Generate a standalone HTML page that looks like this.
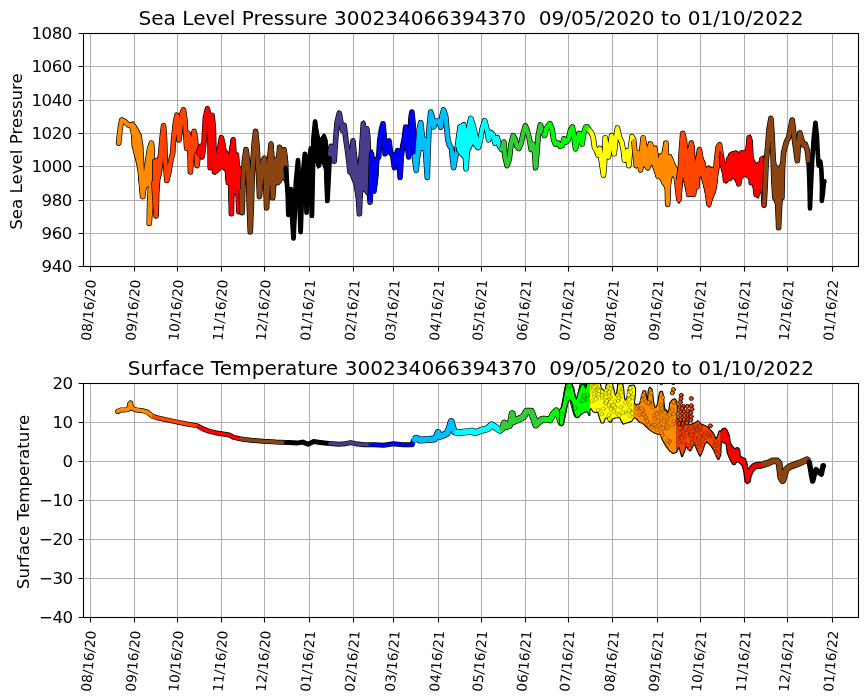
<!DOCTYPE html><html><head><meta charset="utf-8"><title>Sea Level Pressure and Surface Temperature</title>
<style>html,body{margin:0;padding:0;background:#fff}svg{display:block}text{font-family:"DejaVu Sans","Liberation Sans",sans-serif;fill:#000}</style></head><body>
<svg width="867" height="700" viewBox="0 0 867 700">
<rect width="867" height="700" fill="#fff"/>
<defs><clipPath id="c1"><rect x="83.5" y="33.5" width="775.0" height="233.0"/></clipPath><clipPath id="c2"><rect x="83.5" y="383.5" width="775.0" height="234.0"/></clipPath></defs>
<path d="M90.50 33.5V266.5M134.50 33.5V266.5M177.50 33.5V266.5M221.50 33.5V266.5M264.50 33.5V266.5M309.50 33.5V266.5M353.50 33.5V266.5M393.50 33.5V266.5M438.50 33.5V266.5M481.50 33.5V266.5M525.50 33.5V266.5M568.50 33.5V266.5M612.50 33.5V266.5M657.50 33.5V266.5M700.50 33.5V266.5M744.50 33.5V266.5M787.50 33.5V266.5M832.50 33.5V266.5M83.5 266.50H858.5M83.5 233.50H858.5M83.5 200.50H858.5M83.5 166.50H858.5M83.5 133.50H858.5M83.5 100.50H858.5M83.5 66.50H858.5M83.5 33.50H858.5" stroke="#b0b0b0" stroke-width="1.1" fill="none"/>
<g clip-path="url(#c1)" fill="none" stroke-linejoin="round" stroke-linecap="round">
<circle cx="118.6" cy="143.1" r="2.80" fill="#000"/>
<circle cx="823.9" cy="181.6" r="2.80" fill="#000"/>
<polygon points="131.5,123.0 132.3,146.0 136.0,160.0 138.0,169.0 140.4,192.0 142.0,198.0 144.5,198.0 145.0,192.0 143.8,169.0 142.7,146.0 141.0,135.0 136.0,126.0 133.0,122.0" fill="#000" stroke="#000" stroke-width="1.6"/>
<polygon points="144.6,190.0 146.0,165.0 148.0,158.9 153.9,158.9 153.9,184.9 148.0,186.0" fill="#000" stroke="#000" stroke-width="1.6"/>
<polyline points="118.6,143.1 119.0,138.8 120.7,124.9 121.8,120.1 125.0,121.6 128.2,124.9 131.4,124.9 133.1,131.3 134.6,138.8 136.8,139.9 138.3,146.3 140.0,157.0 140.6,169.9 141.5,182.7 142.6,196.6 143.9,187.0 145.4,176.3 147.5,162.0 149.6,148.4 151.4,143.1 152.4,150.6 151.8,161.3 150.7,182.7 149.6,204.1 149.2,223.4 151.8,193.4 153.8,183.2" stroke="#000" stroke-width="5.6" stroke-linecap="butt"/>
<polygon points="131.5,123.0 132.3,146.0 136.0,160.0 138.0,169.0 140.4,192.0 142.0,198.0 144.5,198.0 145.0,192.0 143.8,169.0 142.7,146.0 141.0,135.0 136.0,126.0 133.0,122.0" fill="#ff8c00" stroke="none"/>
<polygon points="144.6,190.0 146.0,165.0 148.0,158.9 153.9,158.9 153.9,184.9 148.0,186.0" fill="#ff8c00" stroke="none"/>
<polyline points="118.6,143.1 119.0,138.8 120.7,124.9 121.8,120.1 125.0,121.6 128.2,124.9 131.4,124.9 133.1,131.3 134.6,138.8 136.8,139.9 138.3,146.3 140.0,157.0 140.6,169.9 141.5,182.7 142.6,196.6 143.9,187.0 145.4,176.3 147.5,162.0 149.6,148.4 151.4,143.1 152.4,150.6 151.8,161.3 150.7,182.7 149.6,204.1 149.2,223.4 151.8,193.4 153.8,183.2" stroke="#ff8c00" stroke-width="4.2"/>
<polygon points="153.0,160.0 158.0,158.0 160.0,150.0 162.3,140.0 163.0,160.0 161.0,175.0 158.0,183.0 153.0,184.0" fill="#000" stroke="#000" stroke-width="1.6"/>
<polyline points="153.8,183.2 153.9,182.7 156.1,215.9 156.7,193.4 158.2,172.0 160.4,157.0 162.1,137.7 163.6,125.9 164.6,139.9 165.3,161.3 166.8,180.5 168.9,172.0 171.1,159.1 172.6,153.8 173.6,139.9 175.4,122.7 176.9,115.2 178.1,129.1 179.0,139.9 180.3,129.1 181.8,114.1 183.5,109.9 185.0,120.6 185.6,133.4 186.7,148.4 188.2,133.4 189.7,139.9 190.4,172.0 192.0,150.6 194.1,131.3 195.6,139.9 197.1,165.6 198.2,154.4" stroke="#000" stroke-width="5.6" stroke-linecap="butt"/>
<polygon points="153.0,160.0 158.0,158.0 160.0,150.0 162.3,140.0 163.0,160.0 161.0,175.0 158.0,183.0 153.0,184.0" fill="#ff4500" stroke="none"/>
<polyline points="153.8,183.2 153.9,182.7 156.1,215.9 156.7,193.4 158.2,172.0 160.4,157.0 162.1,137.7 163.6,125.9 164.6,139.9 165.3,161.3 166.8,180.5 168.9,172.0 171.1,159.1 172.6,153.8 173.6,139.9 175.4,122.7 176.9,115.2 178.1,129.1 179.0,139.9 180.3,129.1 181.8,114.1 183.5,109.9 185.0,120.6 185.6,133.4 186.7,148.4 188.2,133.4 189.7,139.9 190.4,172.0 192.0,150.6 194.1,131.3 195.6,139.9 197.1,165.6 198.2,154.4" stroke="#ff4500" stroke-width="4.2"/>
<polygon points="215.0,158.0 218.0,152.0 220.0,144.0 222.0,136.0 224.0,144.0 226.0,152.0 226.0,172.0 222.0,168.0 218.0,172.0 215.0,174.0" fill="#000" stroke="#000" stroke-width="1.6"/>
<polygon points="226.0,150.0 229.0,154.0 231.6,139.0 234.0,138.0 235.0,152.0 238.0,154.0 239.0,166.0 242.0,168.0 244.0,184.0 244.0,190.0 243.0,204.0 240.4,214.0 238.0,208.0 237.0,194.0 234.0,194.0 233.0,200.0 232.0,214.0 230.0,212.0 229.0,184.0 226.0,180.0" fill="#000" stroke="#000" stroke-width="1.6"/>
<polyline points="198.2,154.4 198.4,152.7 200.6,146.3 202.1,157.0 203.1,150.6 204.2,139.9 205.3,118.4 207.4,108.8 209.1,116.3 210.0,139.9 210.2,167.7 211.3,139.9 212.1,115.2 213.4,129.1 213.9,150.6 214.5,172.0 216.0,159.1 218.1,154.9 219.9,146.3 221.4,137.7 222.9,144.1 224.1,152.7 226.7,154.9 227.8,167.7 228.4,182.7 229.9,161.3 231.0,193.4 231.4,213.8 231.9,182.7 232.3,150.6 233.1,139.9 234.2,157.0 236.4,154.9 237.4,172.0 238.1,193.4 238.9,211.6 239.6,182.7 240.6,169.9 241.2,190.4" stroke="#000" stroke-width="5.6" stroke-linecap="butt"/>
<polygon points="215.0,158.0 218.0,152.0 220.0,144.0 222.0,136.0 224.0,144.0 226.0,152.0 226.0,172.0 222.0,168.0 218.0,172.0 215.0,174.0" fill="#ff0000" stroke="none"/>
<polygon points="226.0,150.0 229.0,154.0 231.6,139.0 234.0,138.0 235.0,152.0 238.0,154.0 239.0,166.0 242.0,168.0 244.0,184.0 244.0,190.0 243.0,204.0 240.4,214.0 238.0,208.0 237.0,194.0 234.0,194.0 233.0,200.0 232.0,214.0 230.0,212.0 229.0,184.0 226.0,180.0" fill="#ff0000" stroke="none"/>
<polyline points="198.2,154.4 198.4,152.7 200.6,146.3 202.1,157.0 203.1,150.6 204.2,139.9 205.3,118.4 207.4,108.8 209.1,116.3 210.0,139.9 210.2,167.7 211.3,139.9 212.1,115.2 213.4,129.1 213.9,150.6 214.5,172.0 216.0,159.1 218.1,154.9 219.9,146.3 221.4,137.7 222.9,144.1 224.1,152.7 226.7,154.9 227.8,167.7 228.4,182.7 229.9,161.3 231.0,193.4 231.4,213.8 231.9,182.7 232.3,150.6 233.1,139.9 234.2,157.0 236.4,154.9 237.4,172.0 238.1,193.4 238.9,211.6 239.6,182.7 240.6,169.9 241.2,190.4" stroke="#ff0000" stroke-width="4.2"/>
<polygon points="266.0,170.0 269.0,150.0 271.0,142.0 273.0,146.0 274.0,162.0 277.0,156.0 279.0,146.0 281.0,147.0 282.0,156.0 284.0,149.0 286.0,150.0 287.6,162.0 288.0,180.0 288.0,184.0 285.0,182.0 283.0,178.0 281.0,182.0 279.0,184.0 276.0,184.0 272.0,184.0 269.0,186.0 266.0,184.0" fill="#000" stroke="#000" stroke-width="1.6"/>
<polyline points="241.2,190.4 241.3,193.4 242.1,212.7 243.0,182.7 244.3,161.3 246.0,149.5 247.7,161.3 248.6,182.7 249.2,204.1 250.3,232.0 251.4,204.1 252.4,172.0 254.1,144.1 255.6,131.3 257.1,146.3 258.4,172.0 259.5,196.6 261.0,178.4 262.7,161.3 264.4,158.1 265.7,182.7 266.6,207.9 268.0,182.7 269.5,161.3 271.0,144.1 272.1,172.0 272.7,197.7 273.8,182.7 275.3,161.3 276.6,159.1 277.4,182.7 278.7,161.3 279.6,147.4 280.9,161.3 281.7,177.4 283.0,161.3 284.1,149.5 285.1,161.3 285.6,167.3" stroke="#000" stroke-width="5.6" stroke-linecap="butt"/>
<polygon points="266.0,170.0 269.0,150.0 271.0,142.0 273.0,146.0 274.0,162.0 277.0,156.0 279.0,146.0 281.0,147.0 282.0,156.0 284.0,149.0 286.0,150.0 287.6,162.0 288.0,180.0 288.0,184.0 285.0,182.0 283.0,178.0 281.0,182.0 279.0,184.0 276.0,184.0 272.0,184.0 269.0,186.0 266.0,184.0" fill="#8b4513" stroke="none"/>
<polyline points="241.2,190.4 241.3,193.4 242.1,212.7 243.0,182.7 244.3,161.3 246.0,149.5 247.7,161.3 248.6,182.7 249.2,204.1 250.3,232.0 251.4,204.1 252.4,172.0 254.1,144.1 255.6,131.3 257.1,146.3 258.4,172.0 259.5,196.6 261.0,178.4 262.7,161.3 264.4,158.1 265.7,182.7 266.6,207.9 268.0,182.7 269.5,161.3 271.0,144.1 272.1,172.0 272.7,197.7 273.8,182.7 275.3,161.3 276.6,159.1 277.4,182.7 278.7,161.3 279.6,147.4 280.9,161.3 281.7,177.4 283.0,161.3 284.1,149.5 285.1,161.3 285.6,167.3" stroke="#8b4513" stroke-width="4.2"/>
<polygon points="312.0,146.0 313.0,130.0 315.6,120.0 318.0,132.0 320.0,140.0 324.0,134.0 327.0,140.0 328.0,160.0 328.0,200.0 326.0,202.0 325.0,170.0 322.0,162.0 318.0,168.0 315.0,160.0 313.0,165.0" fill="#000" stroke="#000" stroke-width="1.6"/>
<polyline points="285.6,167.3 286.6,178.4 287.7,193.4 288.4,214.9 289.4,199.9 290.9,189.1 292.0,214.9 293.5,238.4 294.6,214.9 295.9,182.7 298.0,160.2 298.9,182.7 299.7,208.4 300.6,232.0 301.6,204.1 303.1,172.0 304.9,153.8 305.9,182.7 306.6,212.7 308.1,182.7 309.6,157.0 310.9,148.4 311.7,193.4 311.9,215.9 312.6,182.7 313.4,139.9 315.1,121.6 316.6,135.6 317.7,150.6 318.8,165.6 320.3,152.7 322.0,139.9 324.1,136.6 325.6,150.6 326.7,182.7 327.4,200.9 328.4,182.7 329.7,157.0 330.0,154.1" stroke="#000" stroke-width="4.8" stroke-linecap="butt"/>
<polygon points="312.0,146.0 313.0,130.0 315.6,120.0 318.0,132.0 320.0,140.0 324.0,134.0 327.0,140.0 328.0,160.0 328.0,200.0 326.0,202.0 325.0,170.0 322.0,162.0 318.0,168.0 315.0,160.0 313.0,165.0" fill="#000000" stroke="none"/>
<polyline points="285.6,167.3 286.6,178.4 287.7,193.4 288.4,214.9 289.4,199.9 290.9,189.1 292.0,214.9 293.5,238.4 294.6,214.9 295.9,182.7 298.0,160.2 298.9,182.7 299.7,208.4 300.6,232.0 301.6,204.1 303.1,172.0 304.9,153.8 305.9,182.7 306.6,212.7 308.1,182.7 309.6,157.0 310.9,148.4 311.7,193.4 311.9,215.9 312.6,182.7 313.4,139.9 315.1,121.6 316.6,135.6 317.7,150.6 318.8,165.6 320.3,152.7 322.0,139.9 324.1,136.6 325.6,150.6 326.7,182.7 327.4,200.9 328.4,182.7 329.7,157.0 330.0,154.1" stroke="#000000" stroke-width="3.4"/>
<polygon points="350.0,150.0 353.0,139.0 355.0,150.0 358.0,166.0 360.0,150.0 362.0,124.0 363.6,121.0 366.0,128.0 368.0,127.0 369.6,134.0 370.4,152.0 371.0,180.0 371.6,200.0 370.0,204.0 368.0,196.0 365.0,192.0 363.0,190.0 361.0,200.0 359.0,215.0 357.0,200.0 354.0,184.0 350.0,174.0" fill="#000" stroke="#000" stroke-width="1.6"/>
<polyline points="330.0,154.1 331.0,146.3 332.7,152.7 334.2,161.3 335.3,144.1 337.0,122.7 339.3,113.1 341.1,123.8 342.5,130.5 344.2,125.4 345.9,139.9 347.5,150.6 349.1,163.4 350.0,172.0 351.3,157.0 353.0,140.9 354.3,154.9 355.6,172.0 356.9,182.7 358.4,197.7 359.4,213.8 360.5,182.7 361.6,150.6 363.3,123.8 364.1,150.6 364.8,189.1 365.9,161.3 366.9,129.1 368.0,150.6 369.1,182.7 370.1,202.0 370.2,200.2" stroke="#000" stroke-width="5.6" stroke-linecap="butt"/>
<polygon points="350.0,150.0 353.0,139.0 355.0,150.0 358.0,166.0 360.0,150.0 362.0,124.0 363.6,121.0 366.0,128.0 368.0,127.0 369.6,134.0 370.4,152.0 371.0,180.0 371.6,200.0 370.0,204.0 368.0,196.0 365.0,192.0 363.0,190.0 361.0,200.0 359.0,215.0 357.0,200.0 354.0,184.0 350.0,174.0" fill="#483d8b" stroke="none"/>
<polyline points="330.0,154.1 331.0,146.3 332.7,152.7 334.2,161.3 335.3,144.1 337.0,122.7 339.3,113.1 341.1,123.8 342.5,130.5 344.2,125.4 345.9,139.9 347.5,150.6 349.1,163.4 350.0,172.0 351.3,157.0 353.0,140.9 354.3,154.9 355.6,172.0 356.9,182.7 358.4,197.7 359.4,213.8 360.5,182.7 361.6,150.6 363.3,123.8 364.1,150.6 364.8,189.1 365.9,161.3 366.9,129.1 368.0,150.6 369.1,182.7 370.1,202.0 370.2,200.2" stroke="#483d8b" stroke-width="4.2"/>
<polygon points="370.0,152.0 372.0,150.0 374.0,160.0 376.0,158.0 378.0,156.0 378.0,175.0 376.0,190.0 374.0,192.0 371.0,192.0 370.0,180.0" fill="#000" stroke="#000" stroke-width="1.6"/>
<polyline points="370.2,200.2 370.8,182.7 371.6,153.8 372.7,172.0 374.0,191.3 375.5,172.0 377.0,159.1 378.7,157.0 379.8,139.9 381.5,129.1 383.0,123.8 384.1,135.6 385.1,153.8 386.9,142.0 389.0,140.9 390.5,152.7 392.6,154.9 394.4,167.7 395.9,157.0 397.6,150.6 399.1,161.3 400.1,177.4 401.2,157.0 402.7,146.3 404.4,137.7 405.7,127.0 407.0,139.9 408.7,157.0 409.8,139.9 410.9,118.4 411.9,112.0 413.0,122.7 414.1,144.1 414.6,156.2" stroke="#000" stroke-width="5.6" stroke-linecap="butt"/>
<polygon points="370.0,152.0 372.0,150.0 374.0,160.0 376.0,158.0 378.0,156.0 378.0,175.0 376.0,190.0 374.0,192.0 371.0,192.0 370.0,180.0" fill="#0000ff" stroke="none"/>
<polyline points="370.2,200.2 370.8,182.7 371.6,153.8 372.7,172.0 374.0,191.3 375.5,172.0 377.0,159.1 378.7,157.0 379.8,139.9 381.5,129.1 383.0,123.8 384.1,135.6 385.1,153.8 386.9,142.0 389.0,140.9 390.5,152.7 392.6,154.9 394.4,167.7 395.9,157.0 397.6,150.6 399.1,161.3 400.1,177.4 401.2,157.0 402.7,146.3 404.4,137.7 405.7,127.0 407.0,139.9 408.7,157.0 409.8,139.9 410.9,118.4 411.9,112.0 413.0,122.7 414.1,144.1 414.6,156.2" stroke="#0000ff" stroke-width="4.2"/>
<polygon points="418.5,140.0 420.7,122.7 423.0,135.0 425.0,138.0 427.0,150.0 429.0,129.0 429.0,160.0 428.0,177.0 426.5,178.0 425.5,165.0 423.5,150.0 421.0,150.0 419.0,160.0 418.5,165.0" fill="#000" stroke="#000" stroke-width="1.6"/>
<polyline points="414.6,156.2 414.7,159.1 416.2,170.4 417.6,150.6 419.2,129.1 420.7,122.7 422.1,134.5 423.5,145.2 425.1,139.9 426.2,161.3 427.3,177.4 428.1,150.6 429.0,129.1 430.7,112.0 432.9,119.5 433.7,127.0 435.4,121.6 438.6,120.6 440.8,127.0 441.9,116.3 443.6,109.9 445.7,116.3 446.8,129.1 447.9,139.9 449.4,145.2 451.5,148.4 452.6,159.1 453.6,167.7 455.1,159.1 456.9,150.6 457.6,145.5" stroke="#000" stroke-width="5.6" stroke-linecap="butt"/>
<polygon points="418.5,140.0 420.7,122.7 423.0,135.0 425.0,138.0 427.0,150.0 429.0,129.0 429.0,160.0 428.0,177.0 426.5,178.0 425.5,165.0 423.5,150.0 421.0,150.0 419.0,160.0 418.5,165.0" fill="#00bfff" stroke="none"/>
<polyline points="414.6,156.2 414.7,159.1 416.2,170.4 417.6,150.6 419.2,129.1 420.7,122.7 422.1,134.5 423.5,145.2 425.1,139.9 426.2,161.3 427.3,177.4 428.1,150.6 429.0,129.1 430.7,112.0 432.9,119.5 433.7,127.0 435.4,121.6 438.6,120.6 440.8,127.0 441.9,116.3 443.6,109.9 445.7,116.3 446.8,129.1 447.9,139.9 449.4,145.2 451.5,148.4 452.6,159.1 453.6,167.7 455.1,159.1 456.9,150.6 457.6,145.5" stroke="#00bfff" stroke-width="4.2"/>
<polygon points="456.9,139.9 459.0,125.9 464.4,122.7 466.5,129.1 468.6,120.6 470.8,117.4 474.0,122.7 476.1,133.4 478.3,139.9 478.3,149.5 476.1,148.4 472.9,144.1 469.7,150.6 467.6,159.1 466.1,169.9 464.4,159.1 460.1,154.9 456.9,150.6" fill="#000" stroke="#000" stroke-width="1.6"/>
<polyline points="457.6,145.5 458.6,137.7 460.1,127.0 462.2,125.9 463.7,124.9 465.0,150.6 466.1,168.8 467.1,150.6 468.6,129.1 470.8,118.4 472.9,124.9 475.1,133.4 476.6,139.9 478.3,147.4 480.4,139.9 482.1,129.1 484.7,120.6 486.9,129.1 488.6,139.9 490.7,132.4 492.9,134.5 495.0,143.1 497.3,137.7 499.5,146.3 501.8,149.5 502.0,148.8" stroke="#000" stroke-width="5.6" stroke-linecap="butt"/>
<polygon points="456.9,139.9 459.0,125.9 464.4,122.7 466.5,129.1 468.6,120.6 470.8,117.4 474.0,122.7 476.1,133.4 478.3,139.9 478.3,149.5 476.1,148.4 472.9,144.1 469.7,150.6 467.6,159.1 466.1,169.9 464.4,159.1 460.1,154.9 456.9,150.6" fill="#00ffff" stroke="none"/>
<polyline points="457.6,145.5 458.6,137.7 460.1,127.0 462.2,125.9 463.7,124.9 465.0,150.6 466.1,168.8 467.1,150.6 468.6,129.1 470.8,118.4 472.9,124.9 475.1,133.4 476.6,139.9 478.3,147.4 480.4,139.9 482.1,129.1 484.7,120.6 486.9,129.1 488.6,139.9 490.7,132.4 492.9,134.5 495.0,143.1 497.3,137.7 499.5,146.3 501.8,149.5 502.0,148.8" stroke="#00ffff" stroke-width="4.2"/>
<polyline points="502.0,148.8 503.9,142.0 505.0,157.0 507.1,165.6 509.3,159.1 511.0,144.1 513.1,135.6 515.3,139.9 516.8,146.3 518.9,148.4 521.1,143.1 523.2,133.4 525.4,125.9 527.5,131.3 529.6,139.9 531.1,149.5 532.9,144.1 534.6,152.7 535.6,167.7 537.1,150.6 538.2,135.6 540.4,124.9 542.5,131.3 544.6,135.6 545.0,134.0" stroke="#000" stroke-width="5.6" stroke-linecap="butt"/>
<polyline points="502.0,148.8 503.9,142.0 505.0,157.0 507.1,165.6 509.3,159.1 511.0,144.1 513.1,135.6 515.3,139.9 516.8,146.3 518.9,148.4 521.1,143.1 523.2,133.4 525.4,125.9 527.5,131.3 529.6,139.9 531.1,149.5 532.9,144.1 534.6,152.7 535.6,167.7 537.1,150.6 538.2,135.6 540.4,124.9 542.5,131.3 544.6,135.6 545.0,134.0" stroke="#32cd32" stroke-width="4.2"/>
<polyline points="545.0,134.0 546.1,129.1 547.9,125.9 550.0,123.8 552.1,129.1 553.6,139.9 555.4,144.1 558.1,143.1 560.3,146.3 562.4,145.2 563.9,138.8 566.1,142.0 568.2,139.9 570.5,130.2 572.4,127.0 573.9,135.6 575.5,149.0 577.1,142.0 578.9,133.4 580.6,135.6 582.1,144.1 583.6,133.4 585.7,127.0 587.4,127.0 589.1,130.2 589.4,130.5" stroke="#000" stroke-width="5.6" stroke-linecap="butt"/>
<polyline points="545.0,134.0 546.1,129.1 547.9,125.9 550.0,123.8 552.1,129.1 553.6,139.9 555.4,144.1 558.1,143.1 560.3,146.3 562.4,145.2 563.9,138.8 566.1,142.0 568.2,139.9 570.5,130.2 572.4,127.0 573.9,135.6 575.5,149.0 577.1,142.0 578.9,133.4 580.6,135.6 582.1,144.1 583.6,133.4 585.7,127.0 587.4,127.0 589.1,130.2 589.4,130.5" stroke="#00ff00" stroke-width="4.2"/>
<polyline points="589.4,130.5 591.3,132.4 593.2,137.7 594.5,147.4 596.4,150.6 598.1,154.9 599.9,148.4 601.4,161.3 603.5,175.2 604.6,161.3 605.2,137.7 606.7,146.3 608.4,157.0 609.9,148.4 611.6,135.6 613.1,139.9 614.2,153.8 615.7,139.9 617.4,128.1 619.6,137.7 621.7,142.0 623.4,150.6 624.5,160.2 626.0,152.7 627.5,150.6 628.8,165.6 630.3,150.6 632.0,136.6 633.7,139.9 633.8,140.9" stroke="#000" stroke-width="5.6" stroke-linecap="butt"/>
<polyline points="589.4,130.5 591.3,132.4 593.2,137.7 594.5,147.4 596.4,150.6 598.1,154.9 599.9,148.4 601.4,161.3 603.5,175.2 604.6,161.3 605.2,137.7 606.7,146.3 608.4,157.0 609.9,148.4 611.6,135.6 613.1,139.9 614.2,153.8 615.7,139.9 617.4,128.1 619.6,137.7 621.7,142.0 623.4,150.6 624.5,160.2 626.0,152.7 627.5,150.6 628.8,165.6 630.3,150.6 632.0,136.6 633.7,139.9 633.8,140.9" stroke="#ffff00" stroke-width="4.2"/>
<polygon points="640.0,150.0 643.0,136.0 645.0,140.0 647.0,148.0 649.0,142.0 652.0,146.0 654.0,156.0 656.0,146.0 659.0,160.0 662.0,154.0 664.0,143.0 666.0,142.0 668.0,156.0 671.0,155.0 673.0,162.0 677.0,168.0 679.0,176.0 678.0,182.0 675.0,178.0 672.0,176.0 670.0,186.0 669.0,204.0 667.0,206.0 666.0,190.0 663.0,184.0 660.0,179.0 656.0,176.0 652.0,164.0 648.0,170.0 644.0,166.0 640.0,172.0" fill="#000" stroke="#000" stroke-width="1.6"/>
<polyline points="633.8,140.9 635.0,152.7 636.3,165.6 637.8,152.7 639.5,161.3 640.6,169.9 641.6,152.7 643.1,137.7 644.7,147.4 646.3,161.3 647.8,167.7 649.1,152.7 650.6,144.1 652.3,152.7 653.8,163.4 654.9,148.4 656.4,161.3 658.1,176.3 659.6,167.7 661.3,155.9 662.8,169.9 664.1,182.7 665.1,161.3 666.0,143.1 666.9,172.0 667.7,204.1 668.6,178.4 669.4,157.0 671.6,161.3 673.7,167.7 675.9,174.1 676.8,181.7" stroke="#000" stroke-width="5.6" stroke-linecap="butt"/>
<polygon points="640.0,150.0 643.0,136.0 645.0,140.0 647.0,148.0 649.0,142.0 652.0,146.0 654.0,156.0 656.0,146.0 659.0,160.0 662.0,154.0 664.0,143.0 666.0,142.0 668.0,156.0 671.0,155.0 673.0,162.0 677.0,168.0 679.0,176.0 678.0,182.0 675.0,178.0 672.0,176.0 670.0,186.0 669.0,204.0 667.0,206.0 666.0,190.0 663.0,184.0 660.0,179.0 656.0,176.0 652.0,164.0 648.0,170.0 644.0,166.0 640.0,172.0" fill="#ff8c00" stroke="none"/>
<polyline points="633.8,140.9 635.0,152.7 636.3,165.6 637.8,152.7 639.5,161.3 640.6,169.9 641.6,152.7 643.1,137.7 644.7,147.4 646.3,161.3 647.8,167.7 649.1,152.7 650.6,144.1 652.3,152.7 653.8,163.4 654.9,148.4 656.4,161.3 658.1,176.3 659.6,167.7 661.3,155.9 662.8,169.9 664.1,182.7 665.1,161.3 666.0,143.1 666.9,172.0 667.7,204.1 668.6,178.4 669.4,157.0 671.6,161.3 673.7,167.7 675.9,174.1 676.8,181.7" stroke="#ff8c00" stroke-width="4.2"/>
<polygon points="677.0,176.0 680.0,160.0 681.0,136.0 683.0,132.0 685.0,136.0 687.0,150.0 690.0,144.0 692.0,141.0 694.0,146.0 695.0,162.0 698.0,150.0 700.0,148.0 702.0,156.0 704.0,162.0 706.0,168.0 709.0,166.0 712.0,170.0 715.0,166.0 717.0,150.0 720.0,143.0 720.0,162.0 717.0,178.0 715.0,192.0 712.0,200.0 709.0,207.0 707.0,200.0 704.0,186.0 701.0,176.0 698.0,178.0 696.0,188.0 694.0,196.0 691.0,196.0 688.0,196.0 686.0,190.0 683.0,176.0 681.0,194.0 679.0,203.0 677.0,194.0" fill="#000" stroke="#000" stroke-width="1.6"/>
<polyline points="676.8,181.7 677.4,187.0 678.9,199.9 679.9,182.7 681.0,154.9 682.7,133.4 684.4,139.9 685.9,154.9 687.4,178.4 688.7,194.5 689.8,172.0 691.3,143.1 692.6,167.7 693.6,194.5 695.1,182.7 696.9,187.0 698.1,167.7 699.4,149.5 700.9,159.1 703.1,163.4 704.6,176.3 705.9,184.8 707.4,191.3 708.9,204.1 710.6,193.4 711.9,169.9 713.4,191.3 714.9,182.7 716.4,161.3 718.1,147.4 719.6,144.6 721.0,153.8 721.2,155.0" stroke="#000" stroke-width="5.6" stroke-linecap="butt"/>
<polygon points="677.0,176.0 680.0,160.0 681.0,136.0 683.0,132.0 685.0,136.0 687.0,150.0 690.0,144.0 692.0,141.0 694.0,146.0 695.0,162.0 698.0,150.0 700.0,148.0 702.0,156.0 704.0,162.0 706.0,168.0 709.0,166.0 712.0,170.0 715.0,166.0 717.0,150.0 720.0,143.0 720.0,162.0 717.0,178.0 715.0,192.0 712.0,200.0 709.0,207.0 707.0,200.0 704.0,186.0 701.0,176.0 698.0,178.0 696.0,188.0 694.0,196.0 691.0,196.0 688.0,196.0 686.0,190.0 683.0,176.0 681.0,194.0 679.0,203.0 677.0,194.0" fill="#ff4500" stroke="none"/>
<polyline points="676.8,181.7 677.4,187.0 678.9,199.9 679.9,182.7 681.0,154.9 682.7,133.4 684.4,139.9 685.9,154.9 687.4,178.4 688.7,194.5 689.8,172.0 691.3,143.1 692.6,167.7 693.6,194.5 695.1,182.7 696.9,187.0 698.1,167.7 699.4,149.5 700.9,159.1 703.1,163.4 704.6,176.3 705.9,184.8 707.4,191.3 708.9,204.1 710.6,193.4 711.9,169.9 713.4,191.3 714.9,182.7 716.4,161.3 718.1,147.4 719.6,144.6 721.0,153.8 721.2,155.0" stroke="#ff4500" stroke-width="4.2"/>
<polygon points="720.0,152.0 723.0,160.0 726.0,164.0 729.0,154.0 732.0,152.0 736.0,151.0 739.0,153.0 742.0,152.0 746.0,150.0 748.0,138.0 750.0,135.0 752.0,140.0 753.0,158.0 756.0,164.0 759.0,162.0 761.0,164.0 763.0,156.0 765.0,166.0 766.0,200.0 764.6,207.0 763.0,200.0 761.0,190.0 758.0,198.0 756.0,196.0 753.0,186.0 750.0,180.0 747.0,177.0 744.0,176.0 741.0,180.0 738.0,186.0 735.0,180.0 732.0,176.0 729.0,180.0 726.0,183.0 723.0,174.0 720.0,164.0" fill="#000" stroke="#000" stroke-width="1.6"/>
<polyline points="721.2,155.0 722.6,163.4 724.2,168.8 725.5,180.5 727.0,169.9 728.7,159.1 730.2,178.4 731.5,161.3 733.0,154.9 734.7,169.9 736.2,154.9 737.7,174.1 738.8,183.8 740.1,167.7 741.6,152.7 743.3,165.6 744.8,152.7 746.3,174.1 747.6,159.1 749.1,137.7 750.1,157.0 751.2,182.7 752.7,165.6 754.4,178.4 756.1,194.5 757.6,182.7 759.1,169.9 760.4,187.0 761.9,159.1 763.0,182.7 764.1,205.2 764.2,203.6" stroke="#000" stroke-width="5.6" stroke-linecap="butt"/>
<polygon points="720.0,152.0 723.0,160.0 726.0,164.0 729.0,154.0 732.0,152.0 736.0,151.0 739.0,153.0 742.0,152.0 746.0,150.0 748.0,138.0 750.0,135.0 752.0,140.0 753.0,158.0 756.0,164.0 759.0,162.0 761.0,164.0 763.0,156.0 765.0,166.0 766.0,200.0 764.6,207.0 763.0,200.0 761.0,190.0 758.0,198.0 756.0,196.0 753.0,186.0 750.0,180.0 747.0,177.0 744.0,176.0 741.0,180.0 738.0,186.0 735.0,180.0 732.0,176.0 729.0,180.0 726.0,183.0 723.0,174.0 720.0,164.0" fill="#ff0000" stroke="none"/>
<polyline points="721.2,155.0 722.6,163.4 724.2,168.8 725.5,180.5 727.0,169.9 728.7,159.1 730.2,178.4 731.5,161.3 733.0,154.9 734.7,169.9 736.2,154.9 737.7,174.1 738.8,183.8 740.1,167.7 741.6,152.7 743.3,165.6 744.8,152.7 746.3,174.1 747.6,159.1 749.1,137.7 750.1,157.0 751.2,182.7 752.7,165.6 754.4,178.4 756.1,194.5 757.6,182.7 759.1,169.9 760.4,187.0 761.9,159.1 763.0,182.7 764.1,205.2 764.2,203.6" stroke="#ff0000" stroke-width="4.2"/>
<polygon points="772.0,150.0 774.0,152.0 776.0,165.0 778.0,168.0 780.0,165.0 782.0,160.0 783.0,150.0 783.0,175.0 782.0,200.0 780.0,215.0 779.0,228.0 777.0,225.0 776.0,205.0 774.0,200.0 772.0,180.0" fill="#000" stroke="#000" stroke-width="1.6"/>
<polyline points="764.2,203.6 765.1,187.0 766.2,161.3 767.7,146.3 769.0,129.1 770.9,118.4 772.0,133.4 772.9,152.7 773.7,176.3 774.8,197.7 775.9,167.7 776.9,180.5 778.0,204.1 778.6,227.7 779.7,204.1 781.0,180.5 781.9,197.7 782.6,167.0 783.6,152.7 784.9,147.4 786.5,141.5 788.6,137.7 790.3,129.1 792.2,120.1 793.5,130.2 794.6,141.0 795.8,149.5 797.3,160.8 798.4,145.2 799.8,132.9 801.5,138.8 803.2,145.0 805.3,144.1 807.4,150.6 808.5,161.3 808.6,163.7" stroke="#000" stroke-width="5.6" stroke-linecap="butt"/>
<polygon points="772.0,150.0 774.0,152.0 776.0,165.0 778.0,168.0 780.0,165.0 782.0,160.0 783.0,150.0 783.0,175.0 782.0,200.0 780.0,215.0 779.0,228.0 777.0,225.0 776.0,205.0 774.0,200.0 772.0,180.0" fill="#8b4513" stroke="none"/>
<polyline points="764.2,203.6 765.1,187.0 766.2,161.3 767.7,146.3 769.0,129.1 770.9,118.4 772.0,133.4 772.9,152.7 773.7,176.3 774.8,197.7 775.9,167.7 776.9,180.5 778.0,204.1 778.6,227.7 779.7,204.1 781.0,180.5 781.9,197.7 782.6,167.0 783.6,152.7 784.9,147.4 786.5,141.5 788.6,137.7 790.3,129.1 792.2,120.1 793.5,130.2 794.6,141.0 795.8,149.5 797.3,160.8 798.4,145.2 799.8,132.9 801.5,138.8 803.2,145.0 805.3,144.1 807.4,150.6 808.5,161.3 808.6,163.7" stroke="#8b4513" stroke-width="4.2"/>
<polyline points="808.6,163.7 809.4,181.6 810.0,208.4 811.1,182.7 812.1,161.3 813.6,139.9 815.4,122.7 816.9,135.6 817.7,152.7 818.6,165.6 820.3,161.3 821.4,169.9 822.0,187.0 821.8,200.9 822.9,193.4 823.9,181.6" stroke="#000" stroke-width="4.6" stroke-linecap="butt"/>
<polyline points="808.6,163.7 809.4,181.6 810.0,208.4 811.1,182.7 812.1,161.3 813.6,139.9 815.4,122.7 816.9,135.6 817.7,152.7 818.6,165.6 820.3,161.3 821.4,169.9 822.0,187.0 821.8,200.9 822.9,193.4 823.9,181.6" stroke="#000000" stroke-width="3.2"/>
</g>
<path d="M90.50 266.5v4.9M134.50 266.5v4.9M177.50 266.5v4.9M221.50 266.5v4.9M264.50 266.5v4.9M309.50 266.5v4.9M353.50 266.5v4.9M393.50 266.5v4.9M438.50 266.5v4.9M481.50 266.5v4.9M525.50 266.5v4.9M568.50 266.5v4.9M612.50 266.5v4.9M657.50 266.5v4.9M700.50 266.5v4.9M744.50 266.5v4.9M787.50 266.5v4.9M832.50 266.5v4.9M83.5 266.50h-4.9M83.5 233.50h-4.9M83.5 200.50h-4.9M83.5 166.50h-4.9M83.5 133.50h-4.9M83.5 100.50h-4.9M83.5 66.50h-4.9M83.5 33.50h-4.9" stroke="#000" stroke-width="1.1" fill="none"/>
<rect x="83.5" y="33.5" width="775.0" height="233.0" fill="none" stroke="#000" stroke-width="1.1"/>
<text x="71.9" y="272.10" font-size="16.67" text-anchor="end" letter-spacing="-0.5">940</text>
<text x="71.9" y="238.81" font-size="16.67" text-anchor="end" letter-spacing="-0.5">960</text>
<text x="71.9" y="205.53" font-size="16.67" text-anchor="end" letter-spacing="-0.5">980</text>
<text x="71.9" y="172.24" font-size="16.67" text-anchor="end" letter-spacing="-0.5">1000</text>
<text x="71.9" y="138.96" font-size="16.67" text-anchor="end" letter-spacing="-0.5">1020</text>
<text x="71.9" y="105.67" font-size="16.67" text-anchor="end" letter-spacing="-0.5">1040</text>
<text x="71.9" y="72.39" font-size="16.67" text-anchor="end" letter-spacing="-0.5">1060</text>
<text x="71.9" y="39.10" font-size="16.67" text-anchor="end" letter-spacing="-0.5">1080</text>
<text transform="translate(88.50 310.10) rotate(-85)" font-size="13.60" text-anchor="middle" y="4.9">08/16/20</text>
<text transform="translate(132.92 310.10) rotate(-85)" font-size="13.60" text-anchor="middle" y="4.9">09/16/20</text>
<text transform="translate(175.90 310.10) rotate(-85)" font-size="13.60" text-anchor="middle" y="4.9">10/16/20</text>
<text transform="translate(220.32 310.10) rotate(-85)" font-size="13.60" text-anchor="middle" y="4.9">11/16/20</text>
<text transform="translate(263.30 310.10) rotate(-85)" font-size="13.60" text-anchor="middle" y="4.9">12/16/20</text>
<text transform="translate(307.72 310.10) rotate(-85)" font-size="13.60" text-anchor="middle" y="4.9">01/16/21</text>
<text transform="translate(352.14 310.10) rotate(-85)" font-size="13.60" text-anchor="middle" y="4.9">02/16/21</text>
<text transform="translate(392.26 310.10) rotate(-85)" font-size="13.60" text-anchor="middle" y="4.9">03/16/21</text>
<text transform="translate(436.67 310.10) rotate(-85)" font-size="13.60" text-anchor="middle" y="4.9">04/16/21</text>
<text transform="translate(479.66 310.10) rotate(-85)" font-size="13.60" text-anchor="middle" y="4.9">05/16/21</text>
<text transform="translate(524.08 310.10) rotate(-85)" font-size="13.60" text-anchor="middle" y="4.9">06/16/21</text>
<text transform="translate(567.06 310.10) rotate(-85)" font-size="13.60" text-anchor="middle" y="4.9">07/16/21</text>
<text transform="translate(611.48 310.10) rotate(-85)" font-size="13.60" text-anchor="middle" y="4.9">08/16/21</text>
<text transform="translate(655.90 310.10) rotate(-85)" font-size="13.60" text-anchor="middle" y="4.9">09/16/21</text>
<text transform="translate(698.88 310.10) rotate(-85)" font-size="13.60" text-anchor="middle" y="4.9">10/16/21</text>
<text transform="translate(743.30 310.10) rotate(-85)" font-size="13.60" text-anchor="middle" y="4.9">11/16/21</text>
<text transform="translate(786.28 310.10) rotate(-85)" font-size="13.60" text-anchor="middle" y="4.9">12/16/21</text>
<text transform="translate(830.70 310.10) rotate(-85)" font-size="13.60" text-anchor="middle" y="4.9">01/16/22</text>
<text x="471.0" y="25.1" font-size="20.12" text-anchor="middle" xml:space="preserve">Sea Level Pressure 300234066394370  09/05/2020 to 01/10/2022</text>
<text transform="translate(22.3 151.5) rotate(-90)" font-size="16.67" text-anchor="middle">Sea Level Pressure</text>
<path d="M90.50 383.5V617.5M134.50 383.5V617.5M177.50 383.5V617.5M221.50 383.5V617.5M264.50 383.5V617.5M309.50 383.5V617.5M353.50 383.5V617.5M393.50 383.5V617.5M438.50 383.5V617.5M481.50 383.5V617.5M525.50 383.5V617.5M568.50 383.5V617.5M612.50 383.5V617.5M657.50 383.5V617.5M700.50 383.5V617.5M744.50 383.5V617.5M787.50 383.5V617.5M832.50 383.5V617.5M83.5 617.50H858.5M83.5 578.50H858.5M83.5 539.50H858.5M83.5 500.50H858.5M83.5 461.50H858.5M83.5 422.50H858.5M83.5 383.50H858.5" stroke="#b0b0b0" stroke-width="1.1" fill="none"/>
<g clip-path="url(#c2)" fill="none" stroke-linejoin="round" stroke-linecap="round">
<circle cx="117.6" cy="411.4" r="2.50" fill="#000"/>
<polyline points="117.6,411.4 120.7,409.9 125.4,409.9 128.6,409.1 129.8,403.6 130.6,402.8 131.7,408.3 136.4,409.9 142.7,410.7 147.5,412.2 152.2,416.2 153.8,416.7" stroke="#000" stroke-width="5.0" stroke-linecap="butt"/>
<polyline points="117.6,411.4 120.7,409.9 125.4,409.9 128.6,409.1 129.8,403.6 130.6,402.8 131.7,408.3 136.4,409.9 142.7,410.7 147.5,412.2 152.2,416.2 153.8,416.7" stroke="#ff8c00" stroke-width="3.6"/>
<polyline points="153.8,416.7 156.9,417.7 167.9,420.1 177.3,422.1 186.8,424.0 197.8,425.9 198.2,426.2" stroke="#000" stroke-width="5.0" stroke-linecap="butt"/>
<polyline points="153.8,416.7 156.9,417.7 167.9,420.1 177.3,422.1 186.8,424.0 197.8,425.9 198.2,426.2" stroke="#ff4500" stroke-width="3.6"/>
<polyline points="198.2,426.2 202.5,428.7 208.8,431.1 215.1,432.7 221.4,433.8 229.2,435.0 233.9,437.4 240.2,438.8 241.2,438.9" stroke="#000" stroke-width="5.0" stroke-linecap="butt"/>
<polyline points="198.2,426.2 202.5,428.7 208.8,431.1 215.1,432.7 221.4,433.8 229.2,435.0 233.9,437.4 240.2,438.8 241.2,438.9" stroke="#ff0000" stroke-width="3.6"/>
<polyline points="241.2,438.9 250.7,440.2 263.3,441.3 275.9,442.1 285.6,442.5" stroke="#000" stroke-width="5.0" stroke-linecap="butt"/>
<polyline points="241.2,438.9 250.7,440.2 263.3,441.3 275.9,442.1 285.6,442.5" stroke="#8b4513" stroke-width="3.6"/>
<polyline points="285.6,442.5 288.5,442.6 297.9,442.9 302.6,442.1 308.1,444.2 313.6,441.6 319.9,442.4 329.3,443.4 330.0,443.5" stroke="#000" stroke-width="5.0" stroke-linecap="butt"/>
<polyline points="285.6,442.5 288.5,442.6 297.9,442.9 302.6,442.1 308.1,444.2 313.6,441.6 319.9,442.4 329.3,443.4 330.0,443.5" stroke="#000000" stroke-width="3.6"/>
<polyline points="330.0,443.5 338.8,444.2 345.1,443.7 350.6,442.6 356.1,443.7 363.9,444.8 370.2,444.8" stroke="#000" stroke-width="5.0" stroke-linecap="butt"/>
<polyline points="330.0,443.5 338.8,444.2 345.1,443.7 350.6,442.6 356.1,443.7 363.9,444.8 370.2,444.8" stroke="#483d8b" stroke-width="3.6"/>
<polyline points="370.2,444.8 374.4,444.8 383.9,445.3 393.3,443.7 402.7,444.8 412.2,444.8 413.4,440.5 414.6,439.5" stroke="#000" stroke-width="5.0" stroke-linecap="butt"/>
<polyline points="370.2,444.8 374.4,444.8 383.9,445.3 393.3,443.7 402.7,444.8 412.2,444.8 413.4,440.5 414.6,439.5" stroke="#0000ff" stroke-width="3.6"/>
<polyline points="414.6,439.5 416.1,438.2 420.0,440.1 427.9,439.4 434.2,439.0 436.5,436.6 438.1,432.7 439.7,436.6 443.6,435.0 446.8,433.5 449.1,428.7 451.2,421.7 452.7,427.2 454.6,431.9 457.6,432.4" stroke="#000" stroke-width="7.0" stroke-linecap="butt"/>
<polyline points="414.6,439.5 416.1,438.2 420.0,440.1 427.9,439.4 434.2,439.0 436.5,436.6 438.1,432.7 439.7,436.6 443.6,435.0 446.8,433.5 449.1,428.7 451.2,421.7 452.7,427.2 454.6,431.9 457.6,432.4" stroke="#00bfff" stroke-width="5.6"/>
<polyline points="457.6,432.4 459.3,432.7 465.6,431.9 471.9,431.1 475.1,432.7 481.4,430.3 487.6,428.7 491.6,424.8 495.5,427.2 499.7,430.3 502.0,428.7" stroke="#000" stroke-width="7.0" stroke-linecap="butt"/>
<polyline points="457.6,432.4 459.3,432.7 465.6,431.9 471.9,431.1 475.1,432.7 481.4,430.3 487.6,428.7 491.6,424.8 495.5,427.2 499.7,430.3 502.0,428.7" stroke="#00ffff" stroke-width="5.6"/>
<polyline points="502.0,428.7 502.9,428.0 504.4,423.2 506.0,426.4 509.2,425.6 510.7,422.5 512.3,413.8 513.1,421.7 518.6,419.3 523.3,416.9 526.4,411.4 531.2,411.4 533.5,417.7 535.9,424.8 539.0,421.7 542.2,419.3 545.0,419.3" stroke="#000" stroke-width="7.2" stroke-linecap="butt"/>
<polyline points="502.0,428.7 502.9,428.0 504.4,423.2 506.0,426.4 509.2,425.6 510.7,422.5 512.3,413.8 513.1,421.7 518.6,419.3 523.3,416.9 526.4,411.4 531.2,411.4 533.5,417.7 535.9,424.8 539.0,421.7 542.2,419.3 545.0,419.3" stroke="#32cd32" stroke-width="5.8"/>
<polyline points="545.0,419.3 546.9,419.3 550.0,420.1 553.2,413.8 556.3,410.7 558.7,416.2 561.0,422.5 563.4,411.4 565.8,398.9 567.3,389.4 568.9,384.7 571.3,389.4 573.6,403.6 576.8,414.6 579.9,403.6 582.3,386.3 583.8,398.9 585.4,408.3 587.0,389.4 588.6,384.7" stroke="#000" stroke-width="6.6" stroke-linecap="butt"/>
<polyline points="545.0,419.3 546.9,419.3 550.0,420.1 553.2,413.8 556.3,410.7 558.7,416.2 561.0,422.5 563.4,411.4 565.8,398.9 567.3,389.4 568.9,384.7 571.3,389.4 573.6,403.6 576.8,414.6 579.9,403.6 582.3,386.3 583.8,398.9 585.4,408.3 587.0,389.4 588.6,384.7" stroke="#00ff00" stroke-width="5.2"/>
<polygon points="560.0,410.3 562.3,406.8 564.6,395.3 566.3,384.9 567.5,383.8 571.5,383.8 572.7,388.4 575.0,397.6 576.7,399.9 578.5,393.0 580.8,387.2 582.5,384.3 584.2,386.1 586.0,389.5 587.1,384.3 589.4,383.8 589.4,383.8 599.8,383.8 600.9,388.4 603.3,390.7 605.6,391.8 606.7,384.9 607.9,383.8 611.9,383.8 613.1,388.4 614.8,395.3 616.5,396.5 617.7,389.5 618.2,384.3 622.3,384.3 623.2,389.5 624.0,398.8 625.7,401.1 627.5,397.6 628.6,389.5 629.8,386.1 633.8,385.5 635.0,388.4 635.0,393.0 633.8,403.4 633.8,403.4 636.1,405.7 638.4,404.5 640.0,404.5 641.7,397.6 643.5,391.3 645.2,391.3 646.3,397.6 646.9,403.4 648.1,401.1 648.7,390.7 649.8,387.8 651.5,389.5 652.5,396.5 653.3,403.4 654.4,406.8 656.1,408.0 657.9,404.5 659.0,397.6 660.2,392.4 661.9,391.8 663.1,396.5 663.6,404.5 664.8,411.4 666.0,410.3 667.7,413.8 669.4,410.3 670.2,403.4 672.3,400.5 674.6,399.3 676.3,401.1 676.9,408.0 676.3,417.2 676.3,417.2 678.0,419.5 681.5,422.0 686.1,424.1 690.7,425.0 693.0,424.0 695.4,423.0 698.2,421.3 700.0,424.1 702.9,425.3 706.9,427.0 712.7,433.1 716.1,440.0 717.9,436.5 719.6,431.3 720.7,431.9 720.7,431.9 723.1,429.0 724.8,428.5 726.5,430.2 728.8,435.4 730.0,443.4 732.3,446.9 734.6,449.2 737.5,448.1 739.2,449.8 739.8,456.1 742.1,457.9 745.0,459.0 746.7,464.2 747.3,470.0 749.0,468.8 750.7,466.5 753.0,464.2 756.5,463.1 762.3,462.5 764.6,461.9 764.6,466.5 761.1,467.7 755.9,468.2 753.0,471.1 750.7,475.7 749.6,481.5 747.3,483.2 745.5,481.5 744.4,472.3 742.7,465.4 739.2,461.9 736.9,460.7 734.6,464.2 732.9,463.6 730.0,458.4 727.7,452.7 726.5,443.4 723.6,442.3 720.7,441.1 720.7,444.6 720.2,455.0 718.4,459.0 716.7,456.1 714.4,450.4 711.5,445.8 709.2,443.4 706.9,441.1 704.6,443.4 702.3,450.4 700.0,455.6 697.1,449.2 694.8,443.4 692.5,445.8 690.2,450.4 688.5,449.2 686.1,444.6 684.4,450.4 682.1,456.1 680.4,450.4 678.7,445.8 676.3,451.8 676.3,451.8 673.4,453.0 670.0,450.7 666.5,446.1 663.1,440.3 660.8,434.5 657.3,433.4 653.8,432.2 650.4,429.9 646.5,426.4 643.0,423.0 639.6,421.8 636.1,417.8 633.8,417.2 633.8,417.2 631.5,420.7 629.2,421.8 626.3,422.4 623.4,423.6 621.7,420.7 620.0,417.2 616.5,417.2 614.2,417.8 612.5,418.4 610.7,421.8 609.0,420.7 607.3,417.2 605.0,417.8 603.3,422.4 601.5,422.4 599.8,417.2 598.1,411.4 595.8,412.0 593.4,411.4 591.1,408.0 589.4,409.1 589.4,414.9 587.7,411.4 585.4,411.4 583.1,412.6 580.8,413.8 578.5,416.6 576.7,417.2 574.4,412.6 572.7,403.4 571.0,399.9 569.2,398.8 567.5,402.2 565.8,408.0 564.0,417.2 562.9,424.1 561.2,425.3 560.0,424.1" fill="#000" stroke="#000" stroke-width="2.2" stroke-linejoin="round"/>
<polygon points="560.0,410.3 562.3,406.8 564.6,395.3 566.3,384.9 567.5,383.8 571.5,383.8 572.7,388.4 575.0,397.6 576.7,399.9 578.5,393.0 580.8,387.2 582.5,384.3 584.2,386.1 586.0,389.5 587.1,384.3 589.4,383.8 589.4,414.9 587.7,411.4 585.4,411.4 583.1,412.6 580.8,413.8 578.5,416.6 576.7,417.2 574.4,412.6 572.7,403.4 571.0,399.9 569.2,398.8 567.5,402.2 565.8,408.0 564.0,417.2 562.9,424.1 561.2,425.3 560.0,424.1" fill="#00ff00" stroke="none"/>
<polygon points="589.4,383.8 599.8,383.8 600.9,388.4 603.3,390.7 605.6,391.8 606.7,384.9 607.9,383.8 611.9,383.8 613.1,388.4 614.8,395.3 616.5,396.5 617.7,389.5 618.2,384.3 622.3,384.3 623.2,389.5 624.0,398.8 625.7,401.1 627.5,397.6 628.6,389.5 629.8,386.1 633.8,385.5 635.0,388.4 635.0,393.0 633.8,403.4 633.8,417.2 631.5,420.7 629.2,421.8 626.3,422.4 623.4,423.6 621.7,420.7 620.0,417.2 616.5,417.2 614.2,417.8 612.5,418.4 610.7,421.8 609.0,420.7 607.3,417.2 605.0,417.8 603.3,422.4 601.5,422.4 599.8,417.2 598.1,411.4 595.8,412.0 593.4,411.4 591.1,408.0 589.4,409.1" fill="#ffff00" stroke="none"/>
<polygon points="633.8,403.4 636.1,405.7 638.4,404.5 640.0,404.5 641.7,397.6 643.5,391.3 645.2,391.3 646.3,397.6 646.9,403.4 648.1,401.1 648.7,390.7 649.8,387.8 651.5,389.5 652.5,396.5 653.3,403.4 654.4,406.8 656.1,408.0 657.9,404.5 659.0,397.6 660.2,392.4 661.9,391.8 663.1,396.5 663.6,404.5 664.8,411.4 666.0,410.3 667.7,413.8 669.4,410.3 670.2,403.4 672.3,400.5 674.6,399.3 676.3,401.1 676.9,408.0 676.3,417.2 676.3,451.8 673.4,453.0 670.0,450.7 666.5,446.1 663.1,440.3 660.8,434.5 657.3,433.4 653.8,432.2 650.4,429.9 646.5,426.4 643.0,423.0 639.6,421.8 636.1,417.8 633.8,417.2" fill="#ff8c00" stroke="none"/>
<polygon points="676.3,417.2 678.0,419.5 681.5,422.0 686.1,424.1 690.7,425.0 693.0,424.0 695.4,423.0 698.2,421.3 700.0,424.1 702.9,425.3 706.9,427.0 712.7,433.1 716.1,440.0 717.9,436.5 719.6,431.3 720.7,431.9 720.7,444.6 720.2,455.0 718.4,459.0 716.7,456.1 714.4,450.4 711.5,445.8 709.2,443.4 706.9,441.1 704.6,443.4 702.3,450.4 700.0,455.6 697.1,449.2 694.8,443.4 692.5,445.8 690.2,450.4 688.5,449.2 686.1,444.6 684.4,450.4 682.1,456.1 680.4,450.4 678.7,445.8 676.3,451.8" fill="#ff4500" stroke="none"/>
<polygon points="720.7,431.9 723.1,429.0 724.8,428.5 726.5,430.2 728.8,435.4 730.0,443.4 732.3,446.9 734.6,449.2 737.5,448.1 739.2,449.8 739.8,456.1 742.1,457.9 745.0,459.0 746.7,464.2 747.3,470.0 749.0,468.8 750.7,466.5 753.0,464.2 756.5,463.1 762.3,462.5 764.6,461.9 764.6,466.5 761.1,467.7 755.9,468.2 753.0,471.1 750.7,475.7 749.6,481.5 747.3,483.2 745.5,481.5 744.4,472.3 742.7,465.4 739.2,461.9 736.9,460.7 734.6,464.2 732.9,463.6 730.0,458.4 727.7,452.7 726.5,443.4 723.6,442.3 720.7,441.1" fill="#ff0000" stroke="none"/>
<circle cx="567.8" cy="399.0" r="1.9" fill="#00ff00" stroke="#000" stroke-width="0.45" stroke-opacity="0.6"/>
<circle cx="561.8" cy="413.8" r="1.9" fill="#00ff00" stroke="#000" stroke-width="0.45" stroke-opacity="0.6"/>
<circle cx="568.3" cy="388.6" r="1.9" fill="#00ff00" stroke="#000" stroke-width="0.45" stroke-opacity="0.6"/>
<circle cx="587.8" cy="396.0" r="1.9" fill="#00ff00" stroke="#000" stroke-width="0.45" stroke-opacity="0.6"/>
<circle cx="583.6" cy="396.2" r="1.9" fill="#00ff00" stroke="#000" stroke-width="0.45" stroke-opacity="0.6"/>
<circle cx="575.3" cy="408.4" r="1.9" fill="#00ff00" stroke="#000" stroke-width="0.45" stroke-opacity="0.6"/>
<circle cx="581.5" cy="401.1" r="1.9" fill="#00ff00" stroke="#000" stroke-width="0.45" stroke-opacity="0.6"/>
<circle cx="569.5" cy="385.4" r="1.9" fill="#00ff00" stroke="#000" stroke-width="0.45" stroke-opacity="0.6"/>
<circle cx="584.3" cy="396.1" r="1.9" fill="#00ff00" stroke="#000" stroke-width="0.45" stroke-opacity="0.6"/>
<circle cx="587.0" cy="394.7" r="1.9" fill="#00ff00" stroke="#000" stroke-width="0.45" stroke-opacity="0.6"/>
<circle cx="585.4" cy="400.1" r="1.9" fill="#00ff00" stroke="#000" stroke-width="0.45" stroke-opacity="0.6"/>
<circle cx="583.5" cy="400.3" r="1.9" fill="#00ff00" stroke="#000" stroke-width="0.45" stroke-opacity="0.6"/>
<circle cx="608.4" cy="386.8" r="1.9" fill="#ffff00" stroke="#000" stroke-width="0.45" stroke-opacity="0.6"/>
<circle cx="603.4" cy="408.8" r="1.9" fill="#ffff00" stroke="#000" stroke-width="0.45" stroke-opacity="0.6"/>
<circle cx="621.5" cy="390.9" r="1.9" fill="#ffff00" stroke="#000" stroke-width="0.45" stroke-opacity="0.6"/>
<circle cx="599.3" cy="393.3" r="1.9" fill="#ffff00" stroke="#000" stroke-width="0.45" stroke-opacity="0.6"/>
<circle cx="629.1" cy="392.3" r="1.9" fill="#ffff00" stroke="#000" stroke-width="0.45" stroke-opacity="0.6"/>
<circle cx="610.5" cy="397.4" r="1.9" fill="#ffff00" stroke="#000" stroke-width="0.45" stroke-opacity="0.6"/>
<circle cx="618.3" cy="400.6" r="1.9" fill="#ffff00" stroke="#000" stroke-width="0.45" stroke-opacity="0.6"/>
<circle cx="614.7" cy="401.6" r="1.9" fill="#ffff00" stroke="#000" stroke-width="0.45" stroke-opacity="0.6"/>
<circle cx="631.0" cy="396.9" r="1.9" fill="#ffff00" stroke="#000" stroke-width="0.45" stroke-opacity="0.6"/>
<circle cx="609.3" cy="406.4" r="1.9" fill="#ffff00" stroke="#000" stroke-width="0.45" stroke-opacity="0.6"/>
<circle cx="632.6" cy="397.5" r="1.9" fill="#ffff00" stroke="#000" stroke-width="0.45" stroke-opacity="0.6"/>
<circle cx="608.6" cy="399.9" r="1.9" fill="#ffff00" stroke="#000" stroke-width="0.45" stroke-opacity="0.6"/>
<circle cx="591.8" cy="401.4" r="1.9" fill="#ffff00" stroke="#000" stroke-width="0.45" stroke-opacity="0.6"/>
<circle cx="617.6" cy="395.4" r="1.9" fill="#ffff00" stroke="#000" stroke-width="0.45" stroke-opacity="0.6"/>
<circle cx="619.8" cy="391.6" r="1.9" fill="#ffff00" stroke="#000" stroke-width="0.45" stroke-opacity="0.6"/>
<circle cx="621.0" cy="407.3" r="1.9" fill="#ffff00" stroke="#000" stroke-width="0.45" stroke-opacity="0.6"/>
<circle cx="591.8" cy="385.6" r="1.9" fill="#ffff00" stroke="#000" stroke-width="0.45" stroke-opacity="0.6"/>
<circle cx="601.6" cy="395.0" r="1.9" fill="#ffff00" stroke="#000" stroke-width="0.45" stroke-opacity="0.6"/>
<circle cx="606.4" cy="390.4" r="1.9" fill="#ffff00" stroke="#000" stroke-width="0.45" stroke-opacity="0.6"/>
<circle cx="606.6" cy="400.6" r="1.9" fill="#ffff00" stroke="#000" stroke-width="0.45" stroke-opacity="0.6"/>
<circle cx="615.2" cy="407.1" r="1.9" fill="#ffff00" stroke="#000" stroke-width="0.45" stroke-opacity="0.6"/>
<circle cx="598.9" cy="394.2" r="1.9" fill="#ffff00" stroke="#000" stroke-width="0.45" stroke-opacity="0.6"/>
<circle cx="620.6" cy="386.1" r="1.9" fill="#ffff00" stroke="#000" stroke-width="0.45" stroke-opacity="0.6"/>
<circle cx="605.2" cy="403.0" r="1.9" fill="#ffff00" stroke="#000" stroke-width="0.45" stroke-opacity="0.6"/>
<circle cx="628.6" cy="394.8" r="1.9" fill="#ffff00" stroke="#000" stroke-width="0.45" stroke-opacity="0.6"/>
<circle cx="625.3" cy="412.6" r="1.9" fill="#ffff00" stroke="#000" stroke-width="0.45" stroke-opacity="0.6"/>
<circle cx="598.7" cy="389.5" r="1.9" fill="#ffff00" stroke="#000" stroke-width="0.45" stroke-opacity="0.6"/>
<circle cx="625.3" cy="402.6" r="1.9" fill="#ffff00" stroke="#000" stroke-width="0.45" stroke-opacity="0.6"/>
<circle cx="596.4" cy="389.8" r="1.9" fill="#ffff00" stroke="#000" stroke-width="0.45" stroke-opacity="0.6"/>
<circle cx="605.7" cy="393.6" r="1.9" fill="#ffff00" stroke="#000" stroke-width="0.45" stroke-opacity="0.6"/>
<circle cx="608.8" cy="393.4" r="1.9" fill="#ffff00" stroke="#000" stroke-width="0.45" stroke-opacity="0.6"/>
<circle cx="609.4" cy="419.0" r="1.9" fill="#ffff00" stroke="#000" stroke-width="0.45" stroke-opacity="0.6"/>
<circle cx="630.4" cy="388.2" r="1.9" fill="#ffff00" stroke="#000" stroke-width="0.45" stroke-opacity="0.6"/>
<circle cx="622.7" cy="412.5" r="1.9" fill="#ffff00" stroke="#000" stroke-width="0.45" stroke-opacity="0.6"/>
<circle cx="619.1" cy="397.4" r="1.9" fill="#ffff00" stroke="#000" stroke-width="0.45" stroke-opacity="0.6"/>
<circle cx="629.4" cy="405.1" r="1.9" fill="#ffff00" stroke="#000" stroke-width="0.45" stroke-opacity="0.6"/>
<circle cx="630.3" cy="415.9" r="1.9" fill="#ffff00" stroke="#000" stroke-width="0.45" stroke-opacity="0.6"/>
<circle cx="629.2" cy="399.7" r="1.9" fill="#ffff00" stroke="#000" stroke-width="0.45" stroke-opacity="0.6"/>
<circle cx="598.2" cy="390.0" r="1.9" fill="#ffff00" stroke="#000" stroke-width="0.45" stroke-opacity="0.6"/>
<circle cx="619.1" cy="397.6" r="1.9" fill="#ffff00" stroke="#000" stroke-width="0.45" stroke-opacity="0.6"/>
<circle cx="601.7" cy="413.9" r="1.9" fill="#ffff00" stroke="#000" stroke-width="0.45" stroke-opacity="0.6"/>
<circle cx="611.2" cy="409.5" r="1.9" fill="#ffff00" stroke="#000" stroke-width="0.45" stroke-opacity="0.6"/>
<circle cx="613.7" cy="411.4" r="1.9" fill="#ffff00" stroke="#000" stroke-width="0.45" stroke-opacity="0.6"/>
<circle cx="598.2" cy="410.0" r="1.9" fill="#ffff00" stroke="#000" stroke-width="0.45" stroke-opacity="0.6"/>
<circle cx="630.2" cy="410.8" r="1.9" fill="#ffff00" stroke="#000" stroke-width="0.45" stroke-opacity="0.6"/>
<circle cx="617.7" cy="413.9" r="1.9" fill="#ffff00" stroke="#000" stroke-width="0.45" stroke-opacity="0.6"/>
<circle cx="593.0" cy="389.3" r="1.9" fill="#ffff00" stroke="#000" stroke-width="0.45" stroke-opacity="0.6"/>
<circle cx="602.3" cy="397.7" r="1.9" fill="#ffff00" stroke="#000" stroke-width="0.45" stroke-opacity="0.6"/>
<circle cx="608.9" cy="395.6" r="1.9" fill="#ffff00" stroke="#000" stroke-width="0.45" stroke-opacity="0.6"/>
<circle cx="593.2" cy="386.4" r="1.9" fill="#ffff00" stroke="#000" stroke-width="0.45" stroke-opacity="0.6"/>
<circle cx="596.2" cy="385.7" r="1.9" fill="#ffff00" stroke="#000" stroke-width="0.45" stroke-opacity="0.6"/>
<circle cx="632.4" cy="413.5" r="1.9" fill="#ffff00" stroke="#000" stroke-width="0.45" stroke-opacity="0.6"/>
<circle cx="594.6" cy="396.7" r="1.9" fill="#ffff00" stroke="#000" stroke-width="0.45" stroke-opacity="0.6"/>
<circle cx="605.9" cy="402.9" r="1.9" fill="#ffff00" stroke="#000" stroke-width="0.45" stroke-opacity="0.6"/>
<circle cx="599.0" cy="390.9" r="1.9" fill="#ffff00" stroke="#000" stroke-width="0.45" stroke-opacity="0.6"/>
<circle cx="596.2" cy="398.8" r="1.9" fill="#ffff00" stroke="#000" stroke-width="0.45" stroke-opacity="0.6"/>
<circle cx="621.4" cy="392.4" r="1.9" fill="#ffff00" stroke="#000" stroke-width="0.45" stroke-opacity="0.6"/>
<circle cx="594.3" cy="387.3" r="1.9" fill="#ffff00" stroke="#000" stroke-width="0.45" stroke-opacity="0.6"/>
<circle cx="606.8" cy="400.9" r="1.9" fill="#ffff00" stroke="#000" stroke-width="0.45" stroke-opacity="0.6"/>
<circle cx="609.3" cy="392.2" r="1.9" fill="#ffff00" stroke="#000" stroke-width="0.45" stroke-opacity="0.6"/>
<circle cx="612.0" cy="405.5" r="1.9" fill="#ffff00" stroke="#000" stroke-width="0.45" stroke-opacity="0.6"/>
<circle cx="608.8" cy="405.1" r="1.9" fill="#ffff00" stroke="#000" stroke-width="0.45" stroke-opacity="0.6"/>
<circle cx="610.5" cy="388.7" r="1.9" fill="#ffff00" stroke="#000" stroke-width="0.45" stroke-opacity="0.6"/>
<circle cx="613.7" cy="405.1" r="1.9" fill="#ffff00" stroke="#000" stroke-width="0.45" stroke-opacity="0.6"/>
<circle cx="593.9" cy="393.9" r="1.9" fill="#ffff00" stroke="#000" stroke-width="0.45" stroke-opacity="0.6"/>
<circle cx="609.0" cy="414.9" r="1.9" fill="#ffff00" stroke="#000" stroke-width="0.45" stroke-opacity="0.6"/>
<circle cx="630.8" cy="392.2" r="1.9" fill="#ffff00" stroke="#000" stroke-width="0.45" stroke-opacity="0.6"/>
<circle cx="629.1" cy="410.0" r="1.9" fill="#ffff00" stroke="#000" stroke-width="0.45" stroke-opacity="0.6"/>
<circle cx="602.1" cy="395.3" r="1.9" fill="#ffff00" stroke="#000" stroke-width="0.45" stroke-opacity="0.6"/>
<circle cx="619.1" cy="415.3" r="1.9" fill="#ffff00" stroke="#000" stroke-width="0.45" stroke-opacity="0.6"/>
<circle cx="667.1" cy="420.6" r="1.9" fill="#ff8c00" stroke="#000" stroke-width="0.45" stroke-opacity="0.6"/>
<circle cx="664.7" cy="412.8" r="1.9" fill="#ff8c00" stroke="#000" stroke-width="0.45" stroke-opacity="0.6"/>
<circle cx="639.4" cy="414.5" r="1.9" fill="#ff8c00" stroke="#000" stroke-width="0.45" stroke-opacity="0.6"/>
<circle cx="662.3" cy="435.2" r="1.9" fill="#ff8c00" stroke="#000" stroke-width="0.45" stroke-opacity="0.6"/>
<circle cx="673.5" cy="413.9" r="1.9" fill="#ff8c00" stroke="#000" stroke-width="0.45" stroke-opacity="0.6"/>
<circle cx="645.3" cy="416.6" r="1.9" fill="#ff8c00" stroke="#000" stroke-width="0.45" stroke-opacity="0.6"/>
<circle cx="650.0" cy="402.2" r="1.9" fill="#ff8c00" stroke="#000" stroke-width="0.45" stroke-opacity="0.6"/>
<circle cx="649.3" cy="403.4" r="1.9" fill="#ff8c00" stroke="#000" stroke-width="0.45" stroke-opacity="0.6"/>
<circle cx="638.6" cy="408.5" r="1.9" fill="#ff8c00" stroke="#000" stroke-width="0.45" stroke-opacity="0.6"/>
<circle cx="674.3" cy="403.1" r="1.9" fill="#ff8c00" stroke="#000" stroke-width="0.45" stroke-opacity="0.6"/>
<circle cx="663.0" cy="428.0" r="1.9" fill="#ff8c00" stroke="#000" stroke-width="0.45" stroke-opacity="0.6"/>
<circle cx="662.3" cy="409.6" r="1.9" fill="#ff8c00" stroke="#000" stroke-width="0.45" stroke-opacity="0.6"/>
<circle cx="654.7" cy="418.7" r="1.9" fill="#ff8c00" stroke="#000" stroke-width="0.45" stroke-opacity="0.6"/>
<circle cx="672.1" cy="409.6" r="1.9" fill="#ff8c00" stroke="#000" stroke-width="0.45" stroke-opacity="0.6"/>
<circle cx="653.1" cy="424.8" r="1.9" fill="#ff8c00" stroke="#000" stroke-width="0.45" stroke-opacity="0.6"/>
<circle cx="642.8" cy="395.9" r="1.9" fill="#ff8c00" stroke="#000" stroke-width="0.45" stroke-opacity="0.6"/>
<circle cx="643.3" cy="414.3" r="1.9" fill="#ff8c00" stroke="#000" stroke-width="0.45" stroke-opacity="0.6"/>
<circle cx="647.2" cy="423.7" r="1.9" fill="#ff8c00" stroke="#000" stroke-width="0.45" stroke-opacity="0.6"/>
<circle cx="642.2" cy="400.3" r="1.9" fill="#ff8c00" stroke="#000" stroke-width="0.45" stroke-opacity="0.6"/>
<circle cx="654.5" cy="415.3" r="1.9" fill="#ff8c00" stroke="#000" stroke-width="0.45" stroke-opacity="0.6"/>
<circle cx="654.6" cy="424.9" r="1.9" fill="#ff8c00" stroke="#000" stroke-width="0.45" stroke-opacity="0.6"/>
<circle cx="642.9" cy="395.5" r="1.9" fill="#ff8c00" stroke="#000" stroke-width="0.45" stroke-opacity="0.6"/>
<circle cx="669.7" cy="441.3" r="1.9" fill="#ff8c00" stroke="#000" stroke-width="0.45" stroke-opacity="0.6"/>
<circle cx="647.9" cy="403.7" r="1.9" fill="#ff8c00" stroke="#000" stroke-width="0.45" stroke-opacity="0.6"/>
<circle cx="658.6" cy="421.2" r="1.9" fill="#ff8c00" stroke="#000" stroke-width="0.45" stroke-opacity="0.6"/>
<circle cx="652.8" cy="407.5" r="1.9" fill="#ff8c00" stroke="#000" stroke-width="0.45" stroke-opacity="0.6"/>
<circle cx="643.7" cy="414.3" r="1.9" fill="#ff8c00" stroke="#000" stroke-width="0.45" stroke-opacity="0.6"/>
<circle cx="673.6" cy="401.9" r="1.9" fill="#ff8c00" stroke="#000" stroke-width="0.45" stroke-opacity="0.6"/>
<circle cx="646.3" cy="420.4" r="1.9" fill="#ff8c00" stroke="#000" stroke-width="0.45" stroke-opacity="0.6"/>
<circle cx="666.3" cy="428.1" r="1.9" fill="#ff8c00" stroke="#000" stroke-width="0.45" stroke-opacity="0.6"/>
<circle cx="647.2" cy="421.3" r="1.9" fill="#ff8c00" stroke="#000" stroke-width="0.45" stroke-opacity="0.6"/>
<circle cx="661.5" cy="432.4" r="1.9" fill="#ff8c00" stroke="#000" stroke-width="0.45" stroke-opacity="0.6"/>
<circle cx="673.8" cy="421.0" r="1.9" fill="#ff8c00" stroke="#000" stroke-width="0.45" stroke-opacity="0.6"/>
<circle cx="664.1" cy="421.5" r="1.9" fill="#ff8c00" stroke="#000" stroke-width="0.45" stroke-opacity="0.6"/>
<circle cx="661.2" cy="417.7" r="1.9" fill="#ff8c00" stroke="#000" stroke-width="0.45" stroke-opacity="0.6"/>
<circle cx="648.6" cy="424.9" r="1.9" fill="#ff8c00" stroke="#000" stroke-width="0.45" stroke-opacity="0.6"/>
<circle cx="659.3" cy="412.2" r="1.9" fill="#ff8c00" stroke="#000" stroke-width="0.45" stroke-opacity="0.6"/>
<circle cx="661.3" cy="405.8" r="1.9" fill="#ff8c00" stroke="#000" stroke-width="0.45" stroke-opacity="0.6"/>
<circle cx="646.0" cy="401.5" r="1.9" fill="#ff8c00" stroke="#000" stroke-width="0.45" stroke-opacity="0.6"/>
<circle cx="648.6" cy="402.6" r="1.9" fill="#ff8c00" stroke="#000" stroke-width="0.45" stroke-opacity="0.6"/>
<circle cx="657.0" cy="429.3" r="1.9" fill="#ff8c00" stroke="#000" stroke-width="0.45" stroke-opacity="0.6"/>
<circle cx="666.5" cy="425.5" r="1.9" fill="#ff8c00" stroke="#000" stroke-width="0.45" stroke-opacity="0.6"/>
<circle cx="652.0" cy="426.9" r="1.9" fill="#ff8c00" stroke="#000" stroke-width="0.45" stroke-opacity="0.6"/>
<circle cx="668.0" cy="427.3" r="1.9" fill="#ff8c00" stroke="#000" stroke-width="0.45" stroke-opacity="0.6"/>
<circle cx="651.3" cy="393.1" r="1.9" fill="#ff8c00" stroke="#000" stroke-width="0.45" stroke-opacity="0.6"/>
<circle cx="656.5" cy="413.1" r="1.9" fill="#ff8c00" stroke="#000" stroke-width="0.45" stroke-opacity="0.6"/>
<circle cx="643.4" cy="395.2" r="1.9" fill="#ff8c00" stroke="#000" stroke-width="0.45" stroke-opacity="0.6"/>
<circle cx="667.5" cy="440.4" r="1.9" fill="#ff8c00" stroke="#000" stroke-width="0.45" stroke-opacity="0.6"/>
<circle cx="657.5" cy="414.2" r="1.9" fill="#ff8c00" stroke="#000" stroke-width="0.45" stroke-opacity="0.6"/>
<circle cx="662.8" cy="397.3" r="1.9" fill="#ff8c00" stroke="#000" stroke-width="0.45" stroke-opacity="0.6"/>
<circle cx="659.4" cy="425.5" r="1.9" fill="#ff8c00" stroke="#000" stroke-width="0.45" stroke-opacity="0.6"/>
<circle cx="661.8" cy="407.9" r="1.9" fill="#ff8c00" stroke="#000" stroke-width="0.45" stroke-opacity="0.6"/>
<circle cx="643.1" cy="410.4" r="1.9" fill="#ff8c00" stroke="#000" stroke-width="0.45" stroke-opacity="0.6"/>
<circle cx="636.8" cy="408.5" r="1.9" fill="#ff8c00" stroke="#000" stroke-width="0.45" stroke-opacity="0.6"/>
<circle cx="661.2" cy="405.0" r="1.9" fill="#ff8c00" stroke="#000" stroke-width="0.45" stroke-opacity="0.6"/>
<circle cx="667.1" cy="417.1" r="1.9" fill="#ff8c00" stroke="#000" stroke-width="0.45" stroke-opacity="0.6"/>
<circle cx="669.7" cy="415.5" r="1.9" fill="#ff8c00" stroke="#000" stroke-width="0.45" stroke-opacity="0.6"/>
<circle cx="672.5" cy="424.5" r="1.9" fill="#ff8c00" stroke="#000" stroke-width="0.45" stroke-opacity="0.6"/>
<circle cx="667.6" cy="444.5" r="1.9" fill="#ff8c00" stroke="#000" stroke-width="0.45" stroke-opacity="0.6"/>
<circle cx="641.7" cy="408.3" r="1.9" fill="#ff8c00" stroke="#000" stroke-width="0.45" stroke-opacity="0.6"/>
<circle cx="706.8" cy="432.2" r="1.9" fill="#ff4500" stroke="#000" stroke-width="0.45" stroke-opacity="0.6"/>
<circle cx="695.3" cy="437.3" r="1.9" fill="#ff4500" stroke="#000" stroke-width="0.45" stroke-opacity="0.6"/>
<circle cx="690.4" cy="429.2" r="1.9" fill="#ff4500" stroke="#000" stroke-width="0.45" stroke-opacity="0.6"/>
<circle cx="693.2" cy="431.9" r="1.9" fill="#ff4500" stroke="#000" stroke-width="0.45" stroke-opacity="0.6"/>
<circle cx="677.9" cy="421.4" r="1.9" fill="#ff4500" stroke="#000" stroke-width="0.45" stroke-opacity="0.6"/>
<circle cx="684.8" cy="430.2" r="1.9" fill="#ff4500" stroke="#000" stroke-width="0.45" stroke-opacity="0.6"/>
<circle cx="696.3" cy="427.1" r="1.9" fill="#ff4500" stroke="#000" stroke-width="0.45" stroke-opacity="0.6"/>
<circle cx="694.5" cy="426.8" r="1.9" fill="#ff4500" stroke="#000" stroke-width="0.45" stroke-opacity="0.6"/>
<circle cx="711.5" cy="436.3" r="1.9" fill="#ff4500" stroke="#000" stroke-width="0.45" stroke-opacity="0.6"/>
<circle cx="680.0" cy="437.6" r="1.9" fill="#ff4500" stroke="#000" stroke-width="0.45" stroke-opacity="0.6"/>
<circle cx="690.4" cy="435.3" r="1.9" fill="#ff4500" stroke="#000" stroke-width="0.45" stroke-opacity="0.6"/>
<circle cx="689.9" cy="448.1" r="1.9" fill="#ff4500" stroke="#000" stroke-width="0.45" stroke-opacity="0.6"/>
<circle cx="682.5" cy="426.5" r="1.9" fill="#ff4500" stroke="#000" stroke-width="0.45" stroke-opacity="0.6"/>
<circle cx="691.6" cy="438.8" r="1.9" fill="#ff4500" stroke="#000" stroke-width="0.45" stroke-opacity="0.6"/>
<circle cx="707.6" cy="435.2" r="1.9" fill="#ff4500" stroke="#000" stroke-width="0.45" stroke-opacity="0.6"/>
<circle cx="697.1" cy="442.9" r="1.9" fill="#ff4500" stroke="#000" stroke-width="0.45" stroke-opacity="0.6"/>
<circle cx="714.9" cy="441.6" r="1.9" fill="#ff4500" stroke="#000" stroke-width="0.45" stroke-opacity="0.6"/>
<circle cx="680.8" cy="426.8" r="1.9" fill="#ff4500" stroke="#000" stroke-width="0.45" stroke-opacity="0.6"/>
<circle cx="681.1" cy="437.3" r="1.9" fill="#ff4500" stroke="#000" stroke-width="0.45" stroke-opacity="0.6"/>
<circle cx="684.1" cy="437.1" r="1.9" fill="#ff4500" stroke="#000" stroke-width="0.45" stroke-opacity="0.6"/>
<circle cx="686.9" cy="433.3" r="1.9" fill="#ff4500" stroke="#000" stroke-width="0.45" stroke-opacity="0.6"/>
<circle cx="702.8" cy="444.6" r="1.9" fill="#ff4500" stroke="#000" stroke-width="0.45" stroke-opacity="0.6"/>
<circle cx="681.4" cy="429.3" r="1.9" fill="#ff4500" stroke="#000" stroke-width="0.45" stroke-opacity="0.6"/>
<circle cx="703.3" cy="437.0" r="1.9" fill="#ff4500" stroke="#000" stroke-width="0.45" stroke-opacity="0.6"/>
<circle cx="692.1" cy="435.1" r="1.9" fill="#ff4500" stroke="#000" stroke-width="0.45" stroke-opacity="0.6"/>
<circle cx="712.4" cy="434.7" r="1.9" fill="#ff4500" stroke="#000" stroke-width="0.45" stroke-opacity="0.6"/>
<circle cx="700.1" cy="429.2" r="1.9" fill="#ff4500" stroke="#000" stroke-width="0.45" stroke-opacity="0.6"/>
<circle cx="692.1" cy="430.0" r="1.9" fill="#ff4500" stroke="#000" stroke-width="0.45" stroke-opacity="0.6"/>
<circle cx="680.8" cy="432.9" r="1.9" fill="#ff4500" stroke="#000" stroke-width="0.45" stroke-opacity="0.6"/>
<circle cx="704.6" cy="435.3" r="1.9" fill="#ff4500" stroke="#000" stroke-width="0.45" stroke-opacity="0.6"/>
<circle cx="716.3" cy="441.2" r="1.9" fill="#ff4500" stroke="#000" stroke-width="0.45" stroke-opacity="0.6"/>
<circle cx="700.0" cy="427.5" r="1.9" fill="#ff4500" stroke="#000" stroke-width="0.45" stroke-opacity="0.6"/>
<circle cx="717.0" cy="451.3" r="1.9" fill="#ff4500" stroke="#000" stroke-width="0.45" stroke-opacity="0.6"/>
<circle cx="719.1" cy="452.4" r="1.9" fill="#ff4500" stroke="#000" stroke-width="0.45" stroke-opacity="0.6"/>
<circle cx="699.3" cy="436.8" r="1.9" fill="#ff4500" stroke="#000" stroke-width="0.45" stroke-opacity="0.6"/>
<circle cx="679.5" cy="442.2" r="1.9" fill="#ff4500" stroke="#000" stroke-width="0.45" stroke-opacity="0.6"/>
<circle cx="689.2" cy="428.0" r="1.9" fill="#ff4500" stroke="#000" stroke-width="0.45" stroke-opacity="0.6"/>
<circle cx="692.1" cy="442.1" r="1.9" fill="#ff4500" stroke="#000" stroke-width="0.45" stroke-opacity="0.6"/>
<circle cx="684.1" cy="443.2" r="1.9" fill="#ff4500" stroke="#000" stroke-width="0.45" stroke-opacity="0.6"/>
<circle cx="718.4" cy="449.7" r="1.9" fill="#ff4500" stroke="#000" stroke-width="0.45" stroke-opacity="0.6"/>
<circle cx="690.7" cy="429.2" r="1.9" fill="#ff4500" stroke="#000" stroke-width="0.45" stroke-opacity="0.6"/>
<circle cx="699.6" cy="432.4" r="1.9" fill="#ff4500" stroke="#000" stroke-width="0.45" stroke-opacity="0.6"/>
<circle cx="689.6" cy="429.2" r="1.9" fill="#ff4500" stroke="#000" stroke-width="0.45" stroke-opacity="0.6"/>
<circle cx="714.5" cy="445.7" r="1.9" fill="#ff4500" stroke="#000" stroke-width="0.45" stroke-opacity="0.6"/>
<circle cx="683.2" cy="431.9" r="1.9" fill="#ff4500" stroke="#000" stroke-width="0.45" stroke-opacity="0.6"/>
<circle cx="718.3" cy="444.4" r="1.9" fill="#ff4500" stroke="#000" stroke-width="0.45" stroke-opacity="0.6"/>
<circle cx="695.7" cy="424.8" r="1.9" fill="#ff4500" stroke="#000" stroke-width="0.45" stroke-opacity="0.6"/>
<circle cx="679.9" cy="432.6" r="1.9" fill="#ff4500" stroke="#000" stroke-width="0.45" stroke-opacity="0.6"/>
<circle cx="681.7" cy="424.0" r="1.9" fill="#ff4500" stroke="#000" stroke-width="0.45" stroke-opacity="0.6"/>
<circle cx="688.0" cy="445.4" r="1.9" fill="#ff4500" stroke="#000" stroke-width="0.45" stroke-opacity="0.6"/>
<circle cx="679.6" cy="427.9" r="1.9" fill="#ff4500" stroke="#000" stroke-width="0.45" stroke-opacity="0.6"/>
<circle cx="703.8" cy="438.6" r="1.9" fill="#ff4500" stroke="#000" stroke-width="0.45" stroke-opacity="0.6"/>
<circle cx="715.6" cy="445.7" r="1.9" fill="#ff4500" stroke="#000" stroke-width="0.45" stroke-opacity="0.6"/>
<circle cx="698.9" cy="447.0" r="1.9" fill="#ff4500" stroke="#000" stroke-width="0.45" stroke-opacity="0.6"/>
<circle cx="711.5" cy="435.1" r="1.9" fill="#ff4500" stroke="#000" stroke-width="0.45" stroke-opacity="0.6"/>
<circle cx="695.0" cy="431.4" r="1.9" fill="#ff4500" stroke="#000" stroke-width="0.45" stroke-opacity="0.6"/>
<circle cx="700.4" cy="427.2" r="1.9" fill="#ff4500" stroke="#000" stroke-width="0.45" stroke-opacity="0.6"/>
<circle cx="692.4" cy="428.9" r="1.9" fill="#ff4500" stroke="#000" stroke-width="0.45" stroke-opacity="0.6"/>
<circle cx="690.8" cy="431.5" r="1.9" fill="#ff4500" stroke="#000" stroke-width="0.45" stroke-opacity="0.6"/>
<circle cx="701.6" cy="432.7" r="1.9" fill="#ff4500" stroke="#000" stroke-width="0.45" stroke-opacity="0.6"/>
<circle cx="698.0" cy="423.2" r="1.9" fill="#ff4500" stroke="#000" stroke-width="0.45" stroke-opacity="0.6"/>
<circle cx="682.0" cy="438.3" r="1.9" fill="#ff4500" stroke="#000" stroke-width="0.45" stroke-opacity="0.6"/>
<circle cx="693.2" cy="431.2" r="1.9" fill="#ff4500" stroke="#000" stroke-width="0.45" stroke-opacity="0.6"/>
<circle cx="717.1" cy="453.9" r="1.9" fill="#ff4500" stroke="#000" stroke-width="0.45" stroke-opacity="0.6"/>
<circle cx="690.9" cy="426.6" r="1.9" fill="#ff4500" stroke="#000" stroke-width="0.45" stroke-opacity="0.6"/>
<circle cx="699.6" cy="442.1" r="1.9" fill="#ff4500" stroke="#000" stroke-width="0.45" stroke-opacity="0.6"/>
<circle cx="712.5" cy="436.4" r="1.9" fill="#ff4500" stroke="#000" stroke-width="0.45" stroke-opacity="0.6"/>
<circle cx="705.7" cy="437.2" r="1.9" fill="#ff4500" stroke="#000" stroke-width="0.45" stroke-opacity="0.6"/>
<circle cx="697.9" cy="440.0" r="1.9" fill="#ff4500" stroke="#000" stroke-width="0.45" stroke-opacity="0.6"/>
<circle cx="692.1" cy="442.4" r="1.9" fill="#ff4500" stroke="#000" stroke-width="0.45" stroke-opacity="0.6"/>
<circle cx="661.3" cy="382.7" r="2.0" fill="#ff8c00" stroke="#000" stroke-width="0.8"/>
<circle cx="673.4" cy="382.7" r="2.0" fill="#ff8c00" stroke="#000" stroke-width="0.8"/>
<circle cx="673.4" cy="389.5" r="2.0" fill="#ff8c00" stroke="#000" stroke-width="0.8"/>
<circle cx="672.3" cy="393.0" r="2.0" fill="#ff8c00" stroke="#000" stroke-width="0.8"/>
<circle cx="681.3" cy="395.3" r="2.0" fill="#ff4500" stroke="#000" stroke-width="0.8"/>
<circle cx="680.9" cy="398.8" r="2.0" fill="#ff4500" stroke="#000" stroke-width="0.8"/>
<circle cx="680.4" cy="402.2" r="2.0" fill="#ff4500" stroke="#000" stroke-width="0.8"/>
<circle cx="691.3" cy="398.5" r="2.0" fill="#ff4500" stroke="#000" stroke-width="0.8"/>
<circle cx="710.4" cy="425.8" r="2.0" fill="#ff4500" stroke="#000" stroke-width="0.8"/>
<circle cx="679.8" cy="406.8" r="2.0" fill="#ff4500" stroke="#000" stroke-width="0.8"/>
<circle cx="683.3" cy="406.3" r="2.0" fill="#ff4500" stroke="#000" stroke-width="0.8"/>
<circle cx="687.3" cy="406.3" r="2.0" fill="#ff4500" stroke="#000" stroke-width="0.8"/>
<circle cx="691.3" cy="405.7" r="2.0" fill="#ff4500" stroke="#000" stroke-width="0.8"/>
<circle cx="691.9" cy="409.1" r="2.0" fill="#ff4500" stroke="#000" stroke-width="0.8"/>
<circle cx="690.7" cy="412.6" r="2.0" fill="#ff4500" stroke="#000" stroke-width="0.8"/>
<circle cx="687.3" cy="415.5" r="2.0" fill="#ff4500" stroke="#000" stroke-width="0.8"/>
<circle cx="683.8" cy="411.4" r="2.0" fill="#ff4500" stroke="#000" stroke-width="0.8"/>
<circle cx="680.4" cy="411.4" r="2.0" fill="#ff4500" stroke="#000" stroke-width="0.8"/>
<circle cx="680.4" cy="415.5" r="2.0" fill="#ff4500" stroke="#000" stroke-width="0.8"/>
<circle cx="684.4" cy="415.5" r="2.0" fill="#ff4500" stroke="#000" stroke-width="0.8"/>
<circle cx="687.9" cy="419.5" r="2.0" fill="#ff4500" stroke="#000" stroke-width="0.8"/>
<circle cx="683.8" cy="419.5" r="2.0" fill="#ff4500" stroke="#000" stroke-width="0.8"/>
<circle cx="680.4" cy="419.5" r="2.0" fill="#ff4500" stroke="#000" stroke-width="0.8"/>
<circle cx="691.3" cy="416.6" r="2.0" fill="#ff4500" stroke="#000" stroke-width="0.8"/>
<circle cx="690.7" cy="420.1" r="2.0" fill="#ff4500" stroke="#000" stroke-width="0.8"/>
<circle cx="686.7" cy="423.0" r="2.0" fill="#ff4500" stroke="#000" stroke-width="0.8"/>
<circle cx="682.7" cy="423.6" r="2.0" fill="#ff4500" stroke="#000" stroke-width="0.8"/>
<circle cx="679.2" cy="423.6" r="2.0" fill="#ff4500" stroke="#000" stroke-width="0.8"/>
<circle cx="687.5" cy="410.9" r="2.0" fill="#ff4500" stroke="#000" stroke-width="0.8"/>
<circle cx="682.1" cy="408.6" r="2.0" fill="#ff4500" stroke="#000" stroke-width="0.8"/>
<circle cx="823.3" cy="465.6" r="2.70" fill="#000"/>
<polyline points="763.1,464.4 764.2,464.1" stroke="#000" stroke-width="5.4" stroke-linecap="butt"/>
<polyline points="763.1,464.4 764.2,464.1" stroke="#ff0000" stroke-width="4.0"/>
<polyline points="764.2,464.1 767.7,463.3 772.3,460.9 776.9,460.9 779.2,463.3 779.8,469.6 780.9,477.7 782.7,480.6 784.4,475.4 786.1,469.6 789.6,466.7 794.2,465.0 798.8,463.3 802.9,461.5 806.9,459.8 808.6,461.5" stroke="#000" stroke-width="6.8" stroke-linecap="butt"/>
<polyline points="764.2,464.1 767.7,463.3 772.3,460.9 776.9,460.9 779.2,463.3 779.8,469.6 780.9,477.7 782.7,480.6 784.4,475.4 786.1,469.6 789.6,466.7 794.2,465.0 798.8,463.3 802.9,461.5 806.9,459.8 808.6,461.5" stroke="#8b4513" stroke-width="5.4"/>
<polyline points="808.6,461.5 809.2,462.1 810.4,468.4 811.5,475.4 812.7,481.1 814.4,474.2 816.1,469.6 818.5,471.9 821.3,474.2 822.5,468.4 823.3,465.6" stroke="#000" stroke-width="5.4" stroke-linecap="butt"/>
<polyline points="808.6,461.5 809.2,462.1 810.4,468.4 811.5,475.4 812.7,481.1 814.4,474.2 816.1,469.6 818.5,471.9 821.3,474.2 822.5,468.4 823.3,465.6" stroke="#000000" stroke-width="4.0"/>
</g>
<path d="M90.50 617.5v4.9M134.50 617.5v4.9M177.50 617.5v4.9M221.50 617.5v4.9M264.50 617.5v4.9M309.50 617.5v4.9M353.50 617.5v4.9M393.50 617.5v4.9M438.50 617.5v4.9M481.50 617.5v4.9M525.50 617.5v4.9M568.50 617.5v4.9M612.50 617.5v4.9M657.50 617.5v4.9M700.50 617.5v4.9M744.50 617.5v4.9M787.50 617.5v4.9M832.50 617.5v4.9M83.5 617.50h-4.9M83.5 578.50h-4.9M83.5 539.50h-4.9M83.5 500.50h-4.9M83.5 461.50h-4.9M83.5 422.50h-4.9M83.5 383.50h-4.9" stroke="#000" stroke-width="1.1" fill="none"/>
<rect x="83.5" y="383.5" width="775.0" height="234.0" fill="none" stroke="#000" stroke-width="1.1"/>
<text x="72.6" y="623.10" font-size="16.67" text-anchor="end" letter-spacing="-0.5">−40</text>
<text x="72.6" y="584.10" font-size="16.67" text-anchor="end" letter-spacing="-0.5">−30</text>
<text x="72.6" y="545.10" font-size="16.67" text-anchor="end" letter-spacing="-0.5">−20</text>
<text x="72.6" y="506.10" font-size="16.67" text-anchor="end" letter-spacing="-0.5">−10</text>
<text x="72.6" y="467.10" font-size="16.67" text-anchor="end" letter-spacing="-0.5">0</text>
<text x="72.6" y="428.10" font-size="16.67" text-anchor="end" letter-spacing="-0.5">10</text>
<text x="72.6" y="389.10" font-size="16.67" text-anchor="end" letter-spacing="-0.5">20</text>
<text transform="translate(88.50 661.10) rotate(-85)" font-size="13.60" text-anchor="middle" y="4.9">08/16/20</text>
<text transform="translate(132.92 661.10) rotate(-85)" font-size="13.60" text-anchor="middle" y="4.9">09/16/20</text>
<text transform="translate(175.90 661.10) rotate(-85)" font-size="13.60" text-anchor="middle" y="4.9">10/16/20</text>
<text transform="translate(220.32 661.10) rotate(-85)" font-size="13.60" text-anchor="middle" y="4.9">11/16/20</text>
<text transform="translate(263.30 661.10) rotate(-85)" font-size="13.60" text-anchor="middle" y="4.9">12/16/20</text>
<text transform="translate(307.72 661.10) rotate(-85)" font-size="13.60" text-anchor="middle" y="4.9">01/16/21</text>
<text transform="translate(352.14 661.10) rotate(-85)" font-size="13.60" text-anchor="middle" y="4.9">02/16/21</text>
<text transform="translate(392.26 661.10) rotate(-85)" font-size="13.60" text-anchor="middle" y="4.9">03/16/21</text>
<text transform="translate(436.67 661.10) rotate(-85)" font-size="13.60" text-anchor="middle" y="4.9">04/16/21</text>
<text transform="translate(479.66 661.10) rotate(-85)" font-size="13.60" text-anchor="middle" y="4.9">05/16/21</text>
<text transform="translate(524.08 661.10) rotate(-85)" font-size="13.60" text-anchor="middle" y="4.9">06/16/21</text>
<text transform="translate(567.06 661.10) rotate(-85)" font-size="13.60" text-anchor="middle" y="4.9">07/16/21</text>
<text transform="translate(611.48 661.10) rotate(-85)" font-size="13.60" text-anchor="middle" y="4.9">08/16/21</text>
<text transform="translate(655.90 661.10) rotate(-85)" font-size="13.60" text-anchor="middle" y="4.9">09/16/21</text>
<text transform="translate(698.88 661.10) rotate(-85)" font-size="13.60" text-anchor="middle" y="4.9">10/16/21</text>
<text transform="translate(743.30 661.10) rotate(-85)" font-size="13.60" text-anchor="middle" y="4.9">11/16/21</text>
<text transform="translate(786.28 661.10) rotate(-85)" font-size="13.60" text-anchor="middle" y="4.9">12/16/21</text>
<text transform="translate(830.70 661.10) rotate(-85)" font-size="13.60" text-anchor="middle" y="4.9">01/16/22</text>
<text x="471.0" y="375.1" font-size="20.12" text-anchor="middle" xml:space="preserve">Surface Temperature 300234066394370  09/05/2020 to 01/10/2022</text>
<text transform="translate(28.6 502.0) rotate(-90)" font-size="16.67" text-anchor="middle">Surface Temperature</text>
</svg></body></html>
